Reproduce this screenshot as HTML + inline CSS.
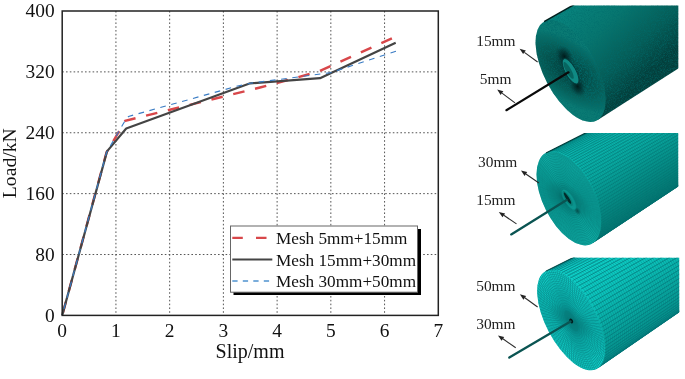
<!DOCTYPE html>
<html><head><meta charset="utf-8"><title>Mesh sensitivity</title>
<style>html,body{margin:0;padding:0;background:#fff}body{width:685px;height:379px;overflow:hidden}</style>
</head><body><div style="opacity:0.999;width:685px;height:379px">
<svg width="685" height="379" viewBox="0 0 685 379" style="display:block">
<defs></defs>
<rect x="0" y="0" width="685" height="379" fill="#fff"/>
<path d="M115.93 11.0 V315.4 M169.66 11.0 V315.4 M223.39 11.0 V315.4 M277.11 11.0 V315.4 M330.84 11.0 V315.4 M384.57 11.0 V315.4 M62.2 254.52 H438.3 M62.2 193.64 H438.3 M62.2 132.76 H438.3 M62.2 71.88 H438.3" stroke="#555" stroke-width="1" stroke-dasharray="1.6 2.2" fill="none"/>
<polyline points="62.2,315.4 106.5,152.5 125.3,120.8 260.0,87.5 297.0,77.5 319.5,71.2 391.9,38.4" fill="none" stroke="#d8474a" stroke-width="2.45" stroke-dasharray="11.6 10.85" stroke-dashoffset="19.9"/>
<polyline points="62.2,315.4 107.0,151.4 126.2,128.5 250.2,83.3 320.0,78.2 395.7,42.8" fill="none" stroke="#444" stroke-width="2.2" stroke-linejoin="round"/>
<polyline points="62.2,315.4 106.5,152.5 124.0,122.5 128.6,116.4 236.5,86.3 250.2,83.3 330.8,72.6 396.0,51.2" fill="none" stroke="#3a7cc4" stroke-width="1.15" stroke-dasharray="5.7 5.6" stroke-dashoffset="4.5"/>
<rect x="62.2" y="11.0" width="376.1" height="304.4" fill="none" stroke="#222" stroke-width="1.5"/>
<text x="54.6" y="321.7" font-family="Liberation Serif, serif" font-size="19.4" text-anchor="end" fill="#111">0</text>
<text x="54.6" y="260.8" font-family="Liberation Serif, serif" font-size="19.4" text-anchor="end" fill="#111">80</text>
<text x="54.6" y="199.9" font-family="Liberation Serif, serif" font-size="19.4" text-anchor="end" fill="#111">160</text>
<text x="54.6" y="139.1" font-family="Liberation Serif, serif" font-size="19.4" text-anchor="end" fill="#111">240</text>
<text x="54.6" y="78.2" font-family="Liberation Serif, serif" font-size="19.4" text-anchor="end" fill="#111">320</text>
<text x="54.6" y="17.3" font-family="Liberation Serif, serif" font-size="19.4" text-anchor="end" fill="#111">400</text>
<text x="62.2" y="337" font-family="Liberation Serif, serif" font-size="19.4" text-anchor="middle" fill="#111">0</text>
<text x="115.9" y="337" font-family="Liberation Serif, serif" font-size="19.4" text-anchor="middle" fill="#111">1</text>
<text x="169.7" y="337" font-family="Liberation Serif, serif" font-size="19.4" text-anchor="middle" fill="#111">2</text>
<text x="223.4" y="337" font-family="Liberation Serif, serif" font-size="19.4" text-anchor="middle" fill="#111">3</text>
<text x="277.1" y="337" font-family="Liberation Serif, serif" font-size="19.4" text-anchor="middle" fill="#111">4</text>
<text x="330.8" y="337" font-family="Liberation Serif, serif" font-size="19.4" text-anchor="middle" fill="#111">5</text>
<text x="384.6" y="337" font-family="Liberation Serif, serif" font-size="19.4" text-anchor="middle" fill="#111">6</text>
<text x="438.3" y="337" font-family="Liberation Serif, serif" font-size="19.4" text-anchor="middle" fill="#111">7</text>
<text x="250" y="358.4" font-family="Liberation Serif, serif" font-size="20" text-anchor="middle" fill="#111">Slip/mm</text>
<text transform="translate(15.8 163.2) rotate(-90)" font-family="Liberation Serif, serif" font-size="19.7" text-anchor="middle" fill="#111">Load/kN</text>
<rect x="233.5" y="229" width="187.5" height="66" fill="#000"/>
<rect x="230.5" y="226" width="187" height="66.2" fill="#fff" stroke="#666" stroke-width="1"/>
<line x1="232.3" y1="237.9" x2="272.3" y2="237.9" stroke="#d8474a" stroke-width="2.4" stroke-dasharray="10.5 13.2"/>
<line x1="232.3" y1="259.5" x2="272.3" y2="259.5" stroke="#444" stroke-width="2"/>
<line x1="232.3" y1="281" x2="272.3" y2="281" stroke="#4f92d0" stroke-width="1.35" stroke-dasharray="5.3 5.2"/>
<text x="276.0" y="243.9" font-family="Liberation Serif, serif" font-size="17.2" fill="#111">Mesh 5mm+15mm</text>
<text x="276.0" y="265.5" font-family="Liberation Serif, serif" font-size="17.2" fill="#111">Mesh 15mm+30mm</text>
<text x="276.0" y="287.1" font-family="Liberation Serif, serif" font-size="17.2" fill="#111">Mesh 30mm+50mm</text>
<radialGradient id="blob"><stop offset="0" stop-color="#011818" stop-opacity="0.95"/><stop offset="0.5" stop-color="#022a2a" stop-opacity="0.6"/><stop offset="1" stop-color="#034040" stop-opacity="0"/></radialGradient>
<filter id="spk" x="0" y="0" width="100%" height="100%"><feTurbulence type="fractalNoise" baseFrequency="1.3" numOctaves="2" seed="3" result="n"/><feColorMatrix type="matrix" values="0 0 0 0 0  0 0 0 0 0.15  0 0 0 0 0.15  1.5 0 0 0 -0.6"/></filter>
<clipPath id="c1"><rect x="500" y="5.4" width="178.29999999999995" height="116.99087528496683"/></clipPath>
<clipPath id="c1b"><path d="M544.1 21.6 L1461.3 -497.5 L1488.1 -448.3 L597.7 119.9 L570.6 70.9 Z"/></clipPath>
<clipPath id="c1f"><ellipse cx="570.6" cy="70.9" rx="26.4" ry="56.0" transform="rotate(-27.9 570.6 70.9)"/></clipPath>
<linearGradient id="c1g" gradientUnits="userSpaceOnUse" x1="544.1" y1="21.6" x2="617.5" y2="101.6"><stop offset="0" stop-color="#088680"/><stop offset="0.4" stop-color="#07766f"/><stop offset="0.75" stop-color="#055c57"/><stop offset="1" stop-color="#033f3c"/></linearGradient>
<radialGradient id="c1r" gradientUnits="userSpaceOnUse" cx="0" cy="0" r="1" gradientTransform="translate(569.5 71) rotate(-27.9) scale(29.0 61.6)"><stop offset="0" stop-color="#033c3a"/><stop offset="0.3" stop-color="#044c48"/><stop offset="0.62" stop-color="#065e58"/><stop offset="0.88" stop-color="#08706a"/><stop offset="1" stop-color="#0a7a73"/></radialGradient>
<g clip-path="url(#c1)">
<path d="M544.1 21.6 L1461.3 -497.5 L1488.1 -448.3 L597.7 119.9 L570.6 70.9 Z" fill="url(#c1g)"/>
<ellipse cx="570.6" cy="70.9" rx="26.4" ry="56.0" transform="rotate(-27.9 570.6 70.9)" fill="url(#c1r)"/>
<rect x="530" y="5.4" width="148.29999999999995" height="116.99087528496683" filter="url(#spk)" clip-path="url(#c1b)"/>
<rect x="530" y="5.4" width="148.29999999999995" height="116.99087528496683" filter="url(#spk)" clip-path="url(#c1f)"/>
<line x1="544.1" y1="21.6" x2="727.5" y2="-82.2" stroke="#03201f" stroke-width="1.5"/>
<ellipse cx="564.3" cy="56.5" rx="8.5" ry="12" transform="rotate(-29 564.3 56.5)" fill="url(#blob)"/><ellipse cx="577.6" cy="86.5" rx="8" ry="11" transform="rotate(-29 577.6 86.5)" fill="url(#blob)"/><ellipse cx="570.6" cy="71.3" rx="5.4" ry="14.2" transform="rotate(-29 570.6 71.3)" fill="#0f8a84" stroke="#043c3c" stroke-width="0.9"/><ellipse cx="568.6" cy="70.4" rx="2.6" ry="9.5" transform="rotate(-29 568.6 70.4)" fill="#076560"/>
</g>
<line x1="506.4" y1="110.2" x2="568.5" y2="72.3" stroke="#0a0a0a" stroke-width="2.2" stroke-linecap="round"/>
<clipPath id="c2"><rect x="500" y="133" width="178.20000000000005" height="112.95215900554308"/></clipPath>
<clipPath id="c2b"><path d="M546.0 152.9 L926.8 -38.9 L950.2 6.3 L592.9 243.1 L568.8 198.4 Z"/></clipPath>
<clipPath id="c2f"><ellipse cx="568.8" cy="198.4" rx="25.7" ry="50.9" transform="rotate(-26.5 568.8 198.4)"/></clipPath>
<linearGradient id="c2g" gradientUnits="userSpaceOnUse" x1="546.0" y1="152.9" x2="601.9" y2="237.2"><stop offset="0" stop-color="#0cc0b8"/><stop offset="0.45" stop-color="#09aaa2"/><stop offset="1" stop-color="#047670"/></linearGradient>
<radialGradient id="c2r" gradientUnits="userSpaceOnUse" cx="0" cy="0" r="1" gradientTransform="translate(567 198.8) rotate(-26.5) scale(28.3 56.0)"><stop offset="0" stop-color="#044a48"/><stop offset="0.2" stop-color="#09847e"/><stop offset="0.5" stop-color="#0ca49c"/><stop offset="1" stop-color="#10aea6"/></radialGradient>
<g clip-path="url(#c2)">
<path d="M546.0 152.9 L926.8 -38.9 L950.2 6.3 L592.9 243.1 L568.8 198.4 Z" fill="url(#c2g)"/>
<g clip-path="url(#c2b)"><path d="M546.0 152.9L926.8 -38.9M547.6 152.2L927.6 -39.2M549.2 151.8L928.4 -39.4M550.9 151.5L929.2 -39.6M552.6 151.4L930.1 -39.6M554.5 151.6L931.0 -39.5M556.3 151.9L931.9 -39.4M558.3 152.4L932.9 -39.1M560.3 153.1L933.9 -38.8M562.3 153.9L934.9 -38.3M564.3 155.0L935.9 -37.8M566.4 156.3L937.0 -37.2M568.5 157.7L938.0 -36.5M570.5 159.3L939.0 -35.7M572.6 161.0L940.1 -34.8M574.6 162.9L941.1 -33.9M576.7 165.0L942.1 -32.8M578.7 167.1L943.1 -31.7M580.6 169.5L944.1 -30.6M582.5 171.9L945.0 -29.4M584.4 174.4L946.0 -28.1M586.2 177.1L946.9 -26.8M587.9 179.8L947.7 -25.4M589.5 182.6L948.5 -24.0M591.1 185.5L949.3 -22.6M592.5 188.4L950.0 -21.1M593.9 191.4L950.7 -19.6M595.1 194.3L951.3 -18.1M596.3 197.4L951.9 -16.6M597.3 200.4L952.4 -15.1M598.2 203.4L952.9 -13.6M599.0 206.4L953.3 -12.1M599.7 209.3L953.6 -10.7M600.2 212.2L953.9 -9.2M600.7 215.1L954.1 -7.8M600.9 217.9L954.2 -6.4M601.1 220.6L954.3 -5.0M601.1 223.2L954.3 -3.7M601.0 225.7L954.3 -2.5M600.8 228.1L954.2 -1.3M600.4 230.3L954.0 -0.1M599.9 232.5L953.7 0.9M599.2 234.5L953.4 1.9M598.5 236.3L953.0 2.9M597.6 238.0L952.6 3.7M596.6 239.6L952.1 4.5M595.5 240.9L951.5 5.2M594.2 242.1L950.9 5.8M592.9 243.1L950.2 6.3" fill="none" stroke="#067472" stroke-width="0.58"/><path d="M543.7 155.2L546.0 153.1L548.6 151.6L551.5 150.8L554.6 150.5L557.9 150.9L561.5 152.0L565.1 153.6L568.8 155.8L572.6 158.6L576.3 161.9L579.9 165.7L583.4 169.9L586.8 174.5L589.9 179.4L592.7 184.5L595.3 189.8L597.5 195.2L599.4 200.6L600.9 206.0L601.9 211.3L602.6 216.4L602.8 221.2L602.6 225.7L601.9 229.9L600.8 233.6L599.4 236.8L597.5 239.4L595.3 241.6L592.7 243.1L589.8 244.0M545.5 154.3L547.8 152.2L550.4 150.7L553.2 149.9L556.4 149.6L559.7 150.0L563.2 151.1L566.9 152.7L570.6 154.9L574.3 157.7L578.0 161.0L581.6 164.8L585.1 169.0L588.5 173.5L591.6 178.4L594.4 183.5L597.0 188.8L599.2 194.2L601.0 199.6L602.5 205.0L603.6 210.3L604.2 215.3L604.4 220.2L604.2 224.7L603.6 228.8L602.5 232.5L601.0 235.7L599.2 238.3L596.9 240.4L594.4 242.0L591.5 242.9M547.3 153.4L549.6 151.3L552.1 149.8L555.0 149.0L558.1 148.7L561.5 149.1L565.0 150.2L568.6 151.8L572.3 154.0L576.0 156.8L579.7 160.1L583.3 163.8L586.8 168.0L590.1 172.6L593.2 177.4L596.1 182.5L598.6 187.8L600.8 193.2L602.7 198.6L604.2 204.0L605.2 209.2L605.9 214.3L606.1 219.1L605.9 223.6L605.2 227.7L604.2 231.4L602.7 234.6L600.8 237.2L598.6 239.3L596.1 240.8L593.2 241.8M549.1 152.4L551.4 150.4L553.9 148.9L556.8 148.1L559.9 147.9L563.2 148.3L566.7 149.3L570.3 150.9L574.0 153.1L577.7 155.9L581.4 159.1L585.0 162.9L588.5 167.1L591.8 171.6L594.9 176.5L597.8 181.6L600.3 186.8L602.5 192.2L604.4 197.6L605.8 202.9L606.9 208.2L607.5 213.2L607.7 218.0L607.5 222.5L606.9 226.6L605.8 230.3L604.3 233.5L602.5 236.1L600.3 238.2L597.7 239.7L594.9 240.6M550.9 151.5L553.1 149.5L555.7 148.0L558.6 147.2L561.7 147.0L565.0 147.4L568.5 148.4L572.1 150.0L575.8 152.2L579.5 155.0L583.1 158.2L586.7 162.0L590.2 166.1L593.5 170.7L596.6 175.5L599.4 180.6L602.0 185.8L604.2 191.2L606.0 196.6L607.5 201.9L608.5 207.1L609.2 212.2L609.4 217.0L609.2 221.4L608.5 225.5L607.5 229.2L606.0 232.4L604.2 235.0L601.9 237.1L599.4 238.6L596.6 239.5M552.7 150.6L554.9 148.6L557.5 147.1L560.3 146.3L563.4 146.1L566.7 146.5L570.2 147.5L573.8 149.1L577.5 151.3L581.2 154.0L584.9 157.3L588.5 161.0L591.9 165.2L595.2 169.7L598.3 174.6L601.1 179.6L603.6 184.9L605.8 190.2L607.7 195.6L609.1 200.9L610.2 206.1L610.8 211.1L611.0 215.9L610.8 220.4L610.2 224.5L609.1 228.1L607.7 231.3L605.8 233.9L603.6 236.0L601.1 237.5L598.3 238.4M554.5 149.7L556.7 147.7L559.3 146.2L562.1 145.4L565.2 145.2L568.5 145.6L572.0 146.6L575.6 148.2L579.2 150.4L582.9 153.1L586.6 156.4L590.2 160.1L593.6 164.3L596.9 168.8L600.0 173.6L602.8 178.6L605.3 183.9L607.5 189.2L609.3 194.6L610.8 199.9L611.9 205.1L612.5 210.1L612.7 214.9L612.5 219.3L611.8 223.4L610.8 227.0L609.3 230.2L607.5 232.8L605.3 234.9L602.8 236.4L599.9 237.3M556.3 148.8L558.5 146.8L561.0 145.3L563.9 144.5L567.0 144.3L570.3 144.7L573.7 145.7L577.3 147.3L581.0 149.5L584.6 152.2L588.3 155.5L591.9 159.2L595.3 163.3L598.6 167.8L601.7 172.6L604.5 177.7L607.0 182.9L609.2 188.2L611.0 193.5L612.5 198.9L613.5 204.0L614.1 209.0L614.4 213.8L614.1 218.2L613.5 222.3L612.4 225.9L611.0 229.1L609.2 231.7L607.0 233.8L604.4 235.3L601.6 236.2M558.1 147.9L560.3 145.9L562.8 144.4L565.7 143.6L568.7 143.4L572.0 143.8L575.5 144.8L579.1 146.4L582.7 148.6L586.4 151.3L590.0 154.5L593.6 158.3L597.0 162.4L600.3 166.9L603.3 171.7L606.2 176.7L608.7 181.9L610.8 187.2L612.7 192.5L614.1 197.8L615.2 203.0L615.8 208.0L616.0 212.7L615.8 217.2L615.2 221.2L614.1 224.8L612.7 228.0L610.8 230.6L608.6 232.7L606.1 234.2L603.3 235.1M559.9 147.0L562.1 145.0L564.6 143.6L567.4 142.7L570.5 142.5L573.8 142.9L577.2 143.9L580.8 145.5L584.4 147.7L588.1 150.4L591.7 153.6L595.3 157.3L598.7 161.4L602.0 165.9L605.0 170.7L607.8 175.7L610.3 180.9L612.5 186.2L614.3 191.5L615.8 196.8L616.8 202.0L617.5 206.9L617.7 211.7L617.4 216.1L616.8 220.1L615.8 223.7L614.3 226.9L612.5 229.5L610.3 231.6L607.8 233.1L605.0 234.0M561.7 146.1L563.9 144.1L566.4 142.7L569.2 141.8L572.3 141.6L575.5 142.0L579.0 143.0L582.5 144.6L586.2 146.8L589.8 149.5L593.4 152.7L597.0 156.4L600.4 160.5L603.7 165.0L606.7 169.7L609.5 174.8L612.0 179.9L614.2 185.2L616.0 190.5L617.4 195.8L618.5 200.9L619.1 205.9L619.3 210.6L619.1 215.0L618.5 219.1L617.4 222.7L616.0 225.8L614.2 228.4L612.0 230.5L609.5 232.0L606.7 232.8M563.4 145.2L565.6 143.2L568.2 141.8L571.0 140.9L574.0 140.7L577.3 141.1L580.7 142.1L584.3 143.7L587.9 145.8L591.5 148.6L595.2 151.8L598.7 155.5L602.1 159.6L605.4 164.0L608.4 168.8L611.2 173.8L613.7 178.9L615.8 184.2L617.7 189.5L619.1 194.8L620.1 199.9L620.8 204.8L621.0 209.6L620.8 213.9L620.1 218.0L619.1 221.6L617.6 224.7L615.8 227.3L613.6 229.4L611.1 230.8L608.4 231.7M565.2 144.3L567.4 142.3L569.9 140.9L572.7 140.0L575.8 139.8L579.1 140.2L582.5 141.2L586.0 142.8L589.6 144.9L593.3 147.6L596.9 150.9L600.4 154.5L603.8 158.6L607.1 163.1L610.1 167.8L612.9 172.8L615.3 178.0L617.5 183.2L619.3 188.5L620.8 193.7L621.8 198.9L622.4 203.8L622.6 208.5L622.4 212.9L621.8 216.9L620.7 220.5L619.3 223.6L617.5 226.2L615.3 228.3L612.8 229.7L610.0 230.6M567.0 143.4L569.2 141.4L571.7 140.0L574.5 139.1L577.6 138.9L580.8 139.3L584.2 140.3L587.8 141.9L591.4 144.0L595.0 146.7L598.6 149.9L602.1 153.6L605.5 157.7L608.7 162.1L611.8 166.9L614.5 171.8L617.0 177.0L619.2 182.2L621.0 187.5L622.4 192.7L623.4 197.8L624.1 202.7L624.3 207.4L624.1 211.8L623.4 215.8L622.4 219.4L621.0 222.5L619.2 225.1L617.0 227.1L614.5 228.6L611.7 229.5M568.8 142.5L571.0 140.5L573.5 139.1L576.3 138.2L579.3 138.0L582.6 138.4L586.0 139.4L589.5 141.0L593.1 143.1L596.7 145.8L600.3 149.0L603.8 152.7L607.2 156.7L610.4 161.2L613.5 165.9L616.2 170.9L618.7 176.0L620.8 181.2L622.6 186.5L624.1 191.7L625.1 196.8L625.7 201.7L625.9 206.4L625.7 210.7L625.1 214.7L624.1 218.3L622.6 221.4L620.8 224.0L618.7 226.0L616.2 227.5L613.4 228.4M570.6 141.6L572.8 139.6L575.3 138.2L578.1 137.3L581.1 137.1L584.3 137.5L587.7 138.5L591.2 140.1L594.8 142.2L598.4 144.9L602.0 148.1L605.5 151.7L608.9 155.8L612.1 160.2L615.1 164.9L617.9 169.9L620.4 175.0L622.5 180.2L624.3 185.5L625.7 190.7L626.8 195.7L627.4 200.7L627.6 205.3L627.4 209.7L626.7 213.6L625.7 217.2L624.3 220.3L622.5 222.9L620.3 224.9L617.9 226.4L615.1 227.3M572.4 140.7L574.6 138.7L577.1 137.3L579.8 136.4L582.9 136.2L586.1 136.6L589.5 137.6L593.0 139.2L596.6 141.3L600.2 144.0L603.7 147.2L607.2 150.8L610.6 154.9L613.8 159.3L616.8 164.0L619.6 168.9L622.0 174.0L624.2 179.2L626.0 184.4L627.4 189.6L628.4 194.7L629.0 199.6L629.2 204.3L629.0 208.6L628.4 212.6L627.4 216.1L625.9 219.2L624.1 221.8L622.0 223.8L619.5 225.3L616.8 226.2M574.2 139.8L576.4 137.8L578.9 136.4L581.6 135.6L584.6 135.3L587.9 135.7L591.2 136.7L594.7 138.3L598.3 140.4L601.9 143.1L605.5 146.3L608.9 149.9L612.3 153.9L615.5 158.3L618.5 163.0L621.2 167.9L623.7 173.0L625.8 178.2L627.6 183.4L629.0 188.6L630.1 193.7L630.7 198.6L630.9 203.2L630.7 207.5L630.1 211.5L629.0 215.0L627.6 218.1L625.8 220.7L623.7 222.7L621.2 224.2L618.5 225.0M576.0 138.9L578.2 136.9L580.6 135.5L583.4 134.7L586.4 134.4L589.6 134.8L593.0 135.8L596.5 137.4L600.0 139.5L603.6 142.2L607.2 145.3L610.7 149.0L614.0 153.0L617.2 157.4L620.2 162.0L622.9 167.0L625.4 172.0L627.5 177.2L629.3 182.4L630.7 187.6L631.7 192.6L632.3 197.5L632.5 202.1L632.3 206.5L631.7 210.4L630.7 213.9L629.3 217.0L627.5 219.6L625.3 221.6L622.9 223.1L620.2 223.9M577.8 138.0L579.9 136.0L582.4 134.6L585.2 133.8L588.2 133.5L591.4 133.9L594.7 134.9L598.2 136.5L601.8 138.6L605.3 141.3L608.9 144.4L612.4 148.0L615.7 152.0L618.9 156.4L621.9 161.1L624.6 166.0L627.0 171.1L629.2 176.2L631.0 181.4L632.4 186.6L633.4 191.6L634.0 196.5L634.2 201.1L634.0 205.4L633.4 209.3L632.3 212.9L630.9 215.9L629.1 218.5L627.0 220.5L624.6 222.0L621.8 222.8M579.6 137.1L581.7 135.1L584.2 133.7L586.9 132.9L589.9 132.6L593.1 133.0L596.5 134.0L600.0 135.6L603.5 137.7L607.1 140.3L610.6 143.5L614.1 147.1L617.4 151.1L620.6 155.5L623.6 160.1L626.3 165.0L628.7 170.1L630.8 175.2L632.6 180.4L634.0 185.5L635.0 190.6L635.6 195.4L635.9 200.0L635.6 204.3L635.0 208.2L634.0 211.8L632.6 214.8L630.8 217.4L628.7 219.4L626.2 220.8L623.5 221.7M581.4 136.2L583.5 134.2L586.0 132.8L588.7 132.0L591.7 131.8L594.9 132.1L598.2 133.1L601.7 134.7L605.2 136.8L608.8 139.4L612.3 142.6L615.8 146.2L619.1 150.2L622.3 154.5L625.2 159.2L628.0 164.0L630.4 169.1L632.5 174.2L634.3 179.4L635.7 184.5L636.7 189.5L637.3 194.4L637.5 199.0L637.3 203.2L636.7 207.2L635.7 210.7L634.3 213.7L632.5 216.3L630.4 218.3L627.9 219.7L625.2 220.6M583.2 135.2L585.3 133.3L587.8 131.9L590.5 131.1L593.5 130.9L596.6 131.2L600.0 132.2L603.4 133.8L607.0 135.9L610.5 138.5L614.0 141.6L617.5 145.2L620.8 149.2L624.0 153.6L626.9 158.2L629.6 163.1L632.1 168.1L634.2 173.2L635.9 178.4L637.3 183.5L638.3 188.5L639.0 193.3L639.2 197.9L639.0 202.2L638.3 206.1L637.3 209.6L635.9 212.6L634.1 215.2L632.0 217.2L629.6 218.6L626.9 219.5M585.0 134.3L587.1 132.4L589.5 131.0L592.3 130.2L595.2 130.0L598.4 130.3L601.7 131.3L605.2 132.9L608.7 135.0L612.2 137.6L615.7 140.7L619.2 144.3L622.5 148.3L625.7 152.6L628.6 157.2L631.3 162.1L633.7 167.1L635.8 172.2L637.6 177.4L639.0 182.5L640.0 187.4L640.6 192.3L640.8 196.8L640.6 201.1L640.0 205.0L639.0 208.5L637.6 211.5L635.8 214.1L633.7 216.1L631.3 217.5L628.6 218.4M586.8 133.4L588.9 131.5L591.3 130.1L594.0 129.3L597.0 129.1L600.2 129.4L603.5 130.4L606.9 132.0L610.4 134.1L614.0 136.7L617.5 139.8L620.9 143.4L624.2 147.3L627.4 151.7L630.3 156.3L633.0 161.1L635.4 166.1L637.5 171.2L639.3 176.3L640.7 181.4L641.7 186.4L642.3 191.2L642.5 195.8L642.3 200.0L641.6 203.9L640.6 207.4L639.2 210.4L637.5 213.0L635.4 215.0L633.0 216.4L630.3 217.2M588.5 132.5L590.7 130.6L593.1 129.2L595.8 128.4L598.8 128.2L601.9 128.6L605.2 129.5L608.7 131.1L612.2 133.2L615.7 135.8L619.2 138.9L622.6 142.4L625.9 146.4L629.0 150.7L632.0 155.3L634.7 160.1L637.1 165.1L639.2 170.2L640.9 175.3L642.3 180.4L643.3 185.4L643.9 190.2L644.1 194.7L643.9 199.0L643.3 202.8L642.3 206.3L640.9 209.3L639.1 211.9L637.0 213.9L634.6 215.3L631.9 216.1M590.3 131.6L592.5 129.7L594.9 128.3L597.6 127.5L600.5 127.3L603.7 127.7L607.0 128.6L610.4 130.2L613.9 132.2L617.4 134.9L620.9 138.0L624.3 141.5L627.6 145.5L630.7 149.8L633.7 154.4L636.3 159.2L638.7 164.1L640.8 169.2L642.6 174.3L644.0 179.4L645.0 184.3L645.6 189.1L645.8 193.6L645.6 197.9L645.0 201.8L644.0 205.2L642.6 208.2L640.8 210.8L638.7 212.7L636.3 214.2L633.6 215.0M592.1 130.7L594.2 128.8L596.7 127.4L599.4 126.6L602.3 126.4L605.4 126.8L608.7 127.7L612.2 129.3L615.6 131.3L619.1 133.9L622.6 137.0L626.0 140.6L629.3 144.5L632.4 148.8L635.3 153.4L638.0 158.2L640.4 163.2L642.5 168.2L644.2 173.3L645.6 178.4L646.6 183.3L647.2 188.1L647.4 192.6L647.2 196.8L646.6 200.7L645.6 204.1L644.2 207.1L642.5 209.7L640.4 211.6L638.0 213.1L635.3 213.9M593.9 129.8L596.0 127.9L598.4 126.5L601.1 125.7L604.1 125.5L607.2 125.9L610.5 126.8L613.9 128.4L617.4 130.4L620.9 133.0L624.3 136.1L627.7 139.7L631.0 143.6L634.1 147.9L637.0 152.4L639.7 157.2L642.1 162.2L644.2 167.2L645.9 172.3L647.3 177.3L648.3 182.3L648.9 187.0L649.1 191.5L648.9 195.7L648.3 199.6L647.3 203.1L645.9 206.1L644.1 208.6L642.1 210.5L639.7 211.9L637.0 212.8M595.7 128.9L597.8 127.0L600.2 125.6L602.9 124.8L605.8 124.6L609.0 125.0L612.2 125.9L615.6 127.5L619.1 129.5L622.6 132.1L626.0 135.2L629.4 138.7L632.7 142.6L635.8 146.9L638.7 151.5L641.4 156.2L643.8 161.2L645.8 166.2L647.6 171.3L648.9 176.3L649.9 181.2L650.5 186.0L650.7 190.5L650.5 194.7L649.9 198.5L648.9 202.0L647.5 205.0L645.8 207.5L643.7 209.4L641.3 210.8L638.7 211.7M597.5 128.0L599.6 126.1L602.0 124.7L604.7 123.9L607.6 123.7L610.7 124.1L614.0 125.0L617.4 126.5L620.8 128.6L624.3 131.2L627.8 134.3L631.1 137.8L634.4 141.7L637.5 146.0L640.4 150.5L643.1 155.3L645.4 160.2L647.5 165.2L649.2 170.3L650.6 175.3L651.6 180.2L652.2 184.9L652.4 189.4L652.2 193.6L651.6 197.4L650.6 200.9L649.2 203.9L647.5 206.3L645.4 208.3L643.0 209.7L640.4 210.6M599.3 127.1L601.4 125.2L603.8 123.8L606.5 123.0L609.4 122.8L612.5 123.2L615.7 124.1L619.1 125.6L622.6 127.7L626.0 130.3L629.5 133.4L632.8 136.9L636.1 140.8L639.2 145.0L642.1 149.5L644.7 154.3L647.1 159.2L649.2 164.2L650.9 169.3L652.3 174.3L653.2 179.1L653.8 183.9L654.0 188.3L653.8 192.5L653.2 196.4L652.2 199.8L650.9 202.8L649.1 205.2L647.1 207.2L644.7 208.6L642.0 209.5M601.1 126.2L603.2 124.3L605.6 122.9L608.2 122.1L611.1 121.9L614.2 122.3L617.5 123.2L620.9 124.7L624.3 126.8L627.8 129.4L631.2 132.4L634.6 135.9L637.8 139.8L640.9 144.1L643.8 148.6L646.4 153.3L648.8 158.2L650.8 163.2L652.6 168.2L653.9 173.2L654.9 178.1L655.5 182.8L655.7 187.3L655.5 191.5L654.9 195.3L653.9 198.7L652.5 201.7L650.8 204.1L648.7 206.1L646.4 207.5L643.7 208.3M602.9 125.3L605.0 123.4L607.4 122.0L610.0 121.2L612.9 121.0L616.0 121.4L619.2 122.3L622.6 123.8L626.0 125.9L629.5 128.5L632.9 131.5L636.3 135.0L639.5 138.9L642.6 143.1L645.5 147.6L648.1 152.3L650.4 157.2L652.5 162.2L654.2 167.2L655.6 172.2L656.6 177.1L657.2 181.8L657.4 186.2L657.2 190.4L656.6 194.2L655.6 197.6L654.2 200.6L652.5 203.0L650.4 205.0L648.1 206.4L645.4 207.2M604.7 124.4L606.8 122.5L609.1 121.1L611.8 120.3L614.7 120.1L617.8 120.5L621.0 121.4L624.3 122.9L627.8 125.0L631.2 127.6L634.6 130.6L638.0 134.1L641.2 137.9L644.3 142.2L647.1 146.7L649.8 151.4L652.1 156.3L654.2 161.2L655.9 166.2L657.2 171.2L658.2 176.0L658.8 180.7L659.0 185.2L658.8 189.3L658.2 193.1L657.2 196.5L655.9 199.5L654.1 201.9L652.1 203.9L649.7 205.3L647.1 206.1M606.5 123.5L608.5 121.6L610.9 120.2L613.6 119.4L616.4 119.2L619.5 119.6L622.7 120.5L626.1 122.0L629.5 124.1L632.9 126.6L636.3 129.7L639.7 133.1L642.9 137.0L646.0 141.2L648.8 145.7L651.4 150.4L653.8 155.3L655.8 160.2L657.5 165.2L658.9 170.2L659.9 175.0L660.5 179.7L660.7 184.1L660.5 188.2L659.9 192.0L658.9 195.4L657.5 198.4L655.8 200.8L653.8 202.8L651.4 204.2L648.8 205.0M608.3 122.6L610.3 120.7L612.7 119.3L615.3 118.5L618.2 118.3L621.3 118.7L624.5 119.6L627.8 121.1L631.2 123.2L634.7 125.7L638.1 128.8L641.4 132.2L644.6 136.1L647.7 140.3L650.5 144.7L653.1 149.4L655.5 154.3L657.5 159.2L659.2 164.2L660.6 169.1L661.5 174.0L662.1 178.6L662.3 183.0L662.1 187.2L661.5 191.0L660.5 194.3L659.2 197.3L657.5 199.7L655.4 201.7L653.1 203.1L650.5 203.9M610.1 121.7L612.1 119.8L614.5 118.4L617.1 117.7L620.0 117.4L623.0 117.8L626.2 118.7L629.6 120.2L633.0 122.3L636.4 124.8L639.8 127.8L643.1 131.3L646.3 135.1L649.3 139.3L652.2 143.8L654.8 148.5L657.1 153.3L659.2 158.2L660.9 163.2L662.2 168.1L663.2 172.9L663.8 177.6L664.0 182.0L663.8 186.1L663.2 189.9L662.2 193.3L660.8 196.2L659.1 198.6L657.1 200.6L654.8 201.9L652.2 202.8M611.8 120.8L613.9 118.9L616.3 117.5L618.9 116.8L621.7 116.5L624.8 116.9L628.0 117.8L631.3 119.3L634.7 121.4L638.1 123.9L641.5 126.9L644.8 130.4L648.0 134.2L651.0 138.4L653.9 142.8L656.5 147.5L658.8 152.3L660.8 157.2L662.5 162.2L663.9 167.1L664.8 171.9L665.4 176.5L665.6 180.9L665.4 185.0L664.8 188.8L663.9 192.2L662.5 195.1L660.8 197.5L658.8 199.4L656.4 200.8L653.8 201.7M613.6 119.9L615.7 118.0L618.0 116.6L620.7 115.9L623.5 115.7L626.6 116.0L629.8 116.9L633.1 118.4L636.4 120.5L639.8 123.0L643.2 126.0L646.5 129.4L649.7 133.2L652.7 137.4L655.6 141.8L658.2 146.5L660.5 151.3L662.5 156.2L664.2 161.2L665.5 166.1L666.5 170.9L667.1 175.5L667.3 179.9L667.1 184.0L666.5 187.7L665.5 191.1L664.2 194.0L662.5 196.4L660.4 198.3L658.1 199.7L655.5 200.5M615.4 119.0L617.5 117.1L619.8 115.7L622.4 115.0L625.3 114.8L628.3 115.1L631.5 116.1L634.8 117.5L638.2 119.5L641.6 122.1L644.9 125.1L648.2 128.5L651.4 132.3L654.4 136.5L657.2 140.9L659.8 145.5L662.1 150.3L664.2 155.2L665.8 160.2L667.2 165.0L668.2 169.8L668.7 174.4L668.9 178.8L668.7 182.9L668.1 186.6L667.2 190.0L665.8 192.9L664.1 195.3L662.1 197.2L659.8 198.6L657.2 199.4M617.2 118.0L619.3 116.2L621.6 114.8L624.2 114.1L627.0 113.9L630.1 114.2L633.3 115.2L636.5 116.6L639.9 118.6L643.3 121.2L646.6 124.1L649.9 127.6L653.1 131.4L656.1 135.5L658.9 139.9L661.5 144.6L663.8 149.3L665.8 154.2L667.5 159.1L668.8 164.0L669.8 168.8L670.4 173.4L670.6 177.7L670.4 181.8L669.8 185.6L668.8 188.9L667.5 191.8L665.8 194.2L663.8 196.1L661.5 197.5L658.9 198.3M619.0 117.1L621.0 115.3L623.4 114.0L626.0 113.2L628.8 113.0L631.8 113.3L635.0 114.3L638.3 115.7L641.6 117.7L645.0 120.2L648.4 123.2L651.6 126.6L654.8 130.4L657.8 134.6L660.6 139.0L663.2 143.6L665.5 148.4L667.5 153.2L669.2 158.1L670.5 163.0L671.5 167.7L672.0 172.3L672.2 176.7L672.0 180.8L671.5 184.5L670.5 187.8L669.2 190.7L667.5 193.1L665.5 195.0L663.2 196.4L660.6 197.2M620.8 116.2L622.8 114.4L625.2 113.1L627.8 112.3L630.6 112.1L633.6 112.4L636.8 113.4L640.0 114.8L643.4 116.8L646.7 119.3L650.1 122.3L653.3 125.7L656.5 129.5L659.5 133.6L662.3 138.0L664.9 142.6L667.2 147.4L669.2 152.2L670.8 157.1L672.2 162.0L673.1 166.7L673.7 171.3L673.9 175.6L673.7 179.7L673.1 183.4L672.1 186.7L670.8 189.6L669.1 192.0L667.1 193.9L664.8 195.3L662.3 196.1M622.6 115.3L624.6 113.5L626.9 112.2L629.5 111.4L632.3 111.2L635.3 111.5L638.5 112.5L641.8 113.9L645.1 115.9L648.5 118.4L651.8 121.4L655.0 124.8L658.2 128.5L661.2 132.7L664.0 137.0L666.5 141.6L668.8 146.4L670.8 151.2L672.5 156.1L673.8 160.9L674.8 165.7L675.4 170.2L675.5 174.6L675.3 178.6L674.8 182.3L673.8 185.6L672.5 188.5L670.8 190.9L668.8 192.8L666.5 194.2L663.9 195.0M624.4 114.4L626.4 112.6L628.7 111.3L631.3 110.5L634.1 110.3L637.1 110.6L640.3 111.6L643.5 113.0L646.8 115.0L650.2 117.5L653.5 120.5L656.8 123.8L659.9 127.6L662.9 131.7L665.7 136.1L668.2 140.7L670.5 145.4L672.5 150.2L674.2 155.1L675.5 159.9L676.4 164.6L677.0 169.2L677.2 173.5L677.0 177.5L676.4 181.2L675.5 184.5L674.1 187.4L672.5 189.8L670.5 191.7L668.2 193.1L665.6 193.9M626.2 113.5L628.2 111.7L630.5 110.4L633.1 109.6L635.9 109.4L638.9 109.8L642.0 110.7L645.3 112.1L648.6 114.1L651.9 116.6L655.2 119.5L658.5 122.9L661.6 126.7L664.6 130.8L667.3 135.1L669.9 139.7L672.2 144.4L674.2 149.2L675.8 154.1L677.1 158.9L678.1 163.6L678.7 168.1L678.9 172.4L678.7 176.5L678.1 180.2L677.1 183.4L675.8 186.3L674.1 188.7L672.1 190.6L669.9 191.9L667.3 192.7M628.0 112.6L630.0 110.8L632.3 109.5L634.8 108.7L637.6 108.5L640.6 108.9L643.8 109.8L647.0 111.2L650.3 113.2L653.6 115.7L656.9 118.6L660.2 122.0L663.3 125.7L666.3 129.8L669.0 134.1L671.6 138.7L673.8 143.4L675.8 148.2L677.5 153.1L678.8 157.9L679.7 162.6L680.3 167.1L680.5 171.4L680.3 175.4L679.7 179.1L678.8 182.4L677.5 185.2L675.8 187.6L673.8 189.5L671.5 190.8L669.0 191.6M629.8 111.7L631.8 109.9L634.1 108.6L636.6 107.8L639.4 107.6L642.4 108.0L645.5 108.9L648.7 110.3L652.0 112.3L655.4 114.8L658.6 117.7L661.9 121.1L665.0 124.8L667.9 128.8L670.7 133.2L673.2 137.7L675.5 142.4L677.5 147.2L679.1 152.1L680.5 156.8L681.4 161.5L682.0 166.0L682.2 170.3L682.0 174.3L681.4 178.0L680.4 181.3L679.1 184.1L677.5 186.5L675.5 188.4L673.2 189.7L670.7 190.5M631.6 110.8L633.6 109.0L635.8 107.7L638.4 106.9L641.2 106.7L644.1 107.1L647.3 108.0L650.5 109.4L653.8 111.4L657.1 113.9L660.4 116.8L663.6 120.1L666.7 123.8L669.6 127.9L672.4 132.2L674.9 136.8L677.2 141.5L679.2 146.2L680.8 151.0L682.1 155.8L683.1 160.5L683.6 165.0L683.8 169.3L683.6 173.3L683.0 176.9L682.1 180.2L680.8 183.0L679.1 185.4L677.2 187.3L674.9 188.6L672.4 189.4M633.4 109.9L635.3 108.1L637.6 106.8L640.2 106.0L642.9 105.8L645.9 106.2L649.0 107.1L652.2 108.5L655.5 110.5L658.8 112.9L662.1 115.9L665.3 119.2L668.4 122.9L671.3 126.9L674.1 131.3L676.6 135.8L678.9 140.5L680.8 145.2L682.5 150.0L683.8 154.8L684.7 159.4L685.3 163.9L685.5 168.2L685.3 172.2L684.7 175.8L683.8 179.1L682.4 181.9L680.8 184.3L678.8 186.2L676.6 187.5L674.0 188.3M635.1 109.0L637.1 107.2L639.4 105.9L641.9 105.1L644.7 104.9L647.7 105.3L650.8 106.2L654.0 107.6L657.2 109.6L660.5 112.0L663.8 114.9L667.0 118.3L670.1 122.0L673.0 126.0L675.8 130.3L678.3 134.8L680.5 139.5L682.5 144.2L684.1 149.0L685.4 153.8L686.4 158.4L686.9 162.9L687.1 167.1L686.9 171.1L686.4 174.7L685.4 178.0L684.1 180.8L682.5 183.2L680.5 185.0L678.2 186.4L675.7 187.2M636.9 108.1L638.9 106.3L641.2 105.0L643.7 104.2L646.5 104.0L649.4 104.4L652.5 105.3L655.7 106.7L659.0 108.7L662.3 111.1L665.5 114.0L668.7 117.3L671.8 121.0L674.7 125.0L677.4 129.3L680.0 133.8L682.2 138.5L684.2 143.2L685.8 148.0L687.1 152.7L688.0 157.4L688.6 161.8L688.8 166.1L688.6 170.0L688.0 173.7L687.1 176.9L685.8 179.7L684.1 182.1L682.2 183.9L679.9 185.3L677.4 186.1M638.7 107.2L640.7 105.4L643.0 104.1L645.5 103.3L648.2 103.1L651.2 103.5L654.3 104.4L657.5 105.8L660.7 107.8L664.0 110.2L667.2 113.1L670.4 116.4L673.5 120.1L676.4 124.1L679.1 128.4L681.6 132.9L683.9 137.5L685.8 142.2L687.5 147.0L688.7 151.7L689.7 156.3L690.2 160.8L690.4 165.0L690.2 169.0L689.7 172.6L688.7 175.8L687.4 178.6L685.8 181.0L683.8 182.8L681.6 184.2L679.1 185.0M640.5 106.3L642.5 104.5L644.8 103.2L647.3 102.4L650.0 102.2L652.9 102.6L656.0 103.5L659.2 104.9L662.4 106.9L665.7 109.3L668.9 112.2L672.1 115.5L675.2 119.1L678.1 123.1L680.8 127.4L683.3 131.9L685.5 136.5L687.5 141.2L689.1 146.0L690.4 150.7L691.3 155.3L691.9 159.7L692.1 164.0L691.9 167.9L691.3 171.5L690.4 174.7L689.1 177.5L687.5 179.9L685.5 181.7L683.3 183.0L680.8 183.8M642.3 105.4L644.3 103.6L646.5 102.3L649.0 101.5L651.8 101.3L654.7 101.7L657.8 102.6L660.9 104.0L664.2 105.9L667.4 108.4L670.7 111.2L673.8 114.5L676.9 118.2L679.8 122.2L682.5 126.5L685.0 130.9L687.2 135.5L689.2 140.2L690.8 145.0L692.1 149.7L693.0 154.3L693.6 158.7L693.7 162.9L693.5 166.8L693.0 170.4L692.0 173.6L690.8 176.4L689.1 178.8L687.2 180.6L685.0 181.9L682.5 182.7M644.1 104.5L646.1 102.7L648.3 101.4L650.8 100.6L653.5 100.4L656.5 100.8L659.5 101.7L662.7 103.1L665.9 105.0L669.2 107.5L672.4 110.3L675.5 113.6L678.6 117.3L681.5 121.2L684.2 125.5L686.7 129.9L688.9 134.5L690.8 139.2L692.4 144.0L693.7 148.6L694.6 153.2L695.2 157.6L695.4 161.8L695.2 165.8L694.6 169.3L693.7 172.6L692.4 175.3L690.8 177.7L688.9 179.5L686.6 180.8L684.2 181.6M645.9 103.6L647.9 101.8L650.1 100.5L652.6 99.8L655.3 99.6L658.2 99.9L661.3 100.8L664.4 102.2L667.6 104.1L670.9 106.5L674.1 109.4L677.2 112.7L680.3 116.3L683.2 120.3L685.9 124.5L688.3 129.0L690.6 133.6L692.5 138.2L694.1 142.9L695.4 147.6L696.3 152.2L696.9 156.6L697.0 160.8L696.9 164.7L696.3 168.3L695.4 171.5L694.1 174.2L692.5 176.6L690.5 178.4L688.3 179.7L685.8 180.5M647.7 102.7L649.6 100.9L651.9 99.6L654.4 98.9L657.1 98.7L660.0 99.0L663.0 99.9L666.2 101.3L669.4 103.2L672.6 105.6L675.8 108.5L678.9 111.8L682.0 115.4L684.9 119.3L687.6 123.6L690.0 128.0L692.2 132.6L694.2 137.2L695.8 141.9L697.0 146.6L698.0 151.2L698.5 155.5L698.7 159.7L698.5 163.6L697.9 167.2L697.0 170.4L695.7 173.1L694.1 175.5L692.2 177.3L690.0 178.6L687.5 179.4M649.5 101.8L651.4 100.0L653.7 98.7L656.1 98.0L658.8 97.8L661.7 98.1L664.8 99.0L667.9 100.4L671.1 102.3L674.3 104.7L677.5 107.6L680.7 110.8L683.7 114.4L686.6 118.4L689.2 122.6L691.7 127.0L693.9 131.6L695.8 136.2L697.4 140.9L698.7 145.6L699.6 150.1L700.2 154.5L700.4 158.7L700.2 162.5L699.6 166.1L698.7 169.3L697.4 172.1L695.8 174.4L693.9 176.2L691.7 177.5L689.2 178.3M651.3 100.8L653.2 99.1L655.4 97.8L657.9 97.1L660.6 96.9L663.5 97.2L666.5 98.1L669.6 99.5L672.8 101.4L676.1 103.8L679.2 106.6L682.4 109.9L685.4 113.5L688.2 117.4L690.9 121.6L693.4 126.0L695.6 130.6L697.5 135.2L699.1 139.9L700.4 144.5L701.3 149.1L701.8 153.4L702.0 157.6L701.8 161.5L701.3 165.0L700.3 168.2L699.1 171.0L697.5 173.3L695.5 175.1L693.3 176.4L690.9 177.2M653.1 99.9L655.0 98.2L657.2 96.9L659.7 96.2L662.4 96.0L665.2 96.3L668.3 97.2L671.4 98.6L674.6 100.5L677.8 102.9L681.0 105.7L684.1 109.0L687.1 112.6L689.9 116.5L692.6 120.7L695.1 125.1L697.2 129.6L699.2 134.2L700.7 138.9L702.0 143.5L702.9 148.0L703.5 152.4L703.7 156.5L703.5 160.4L702.9 163.9L702.0 167.1L700.7 169.9L699.1 172.2L697.2 174.0L695.0 175.3L692.6 176.0M654.9 99.0L656.8 97.3L659.0 96.0L661.5 95.3L664.1 95.1L667.0 95.4L670.0 96.3L673.1 97.7L676.3 99.6L679.5 102.0L682.7 104.8L685.8 108.0L688.8 111.6L691.6 115.5L694.3 119.7L696.7 124.1L698.9 128.6L700.8 133.2L702.4 137.9L703.7 142.5L704.6 147.0L705.1 151.3L705.3 155.5L705.1 159.3L704.6 162.9L703.7 166.0L702.4 168.8L700.8 171.0L698.9 172.9L696.7 174.2L694.3 174.9M656.7 98.1L658.6 96.4L660.8 95.1L663.2 94.4L665.9 94.2L668.8 94.5L671.8 95.4L674.9 96.8L678.0 98.7L681.2 101.1L684.4 103.9L687.5 107.1L690.5 110.7L693.3 114.6L696.0 118.8L698.4 123.1L700.6 127.6L702.5 132.2L704.1 136.9L705.3 141.5L706.2 146.0L706.8 150.3L707.0 154.4L706.8 158.3L706.2 161.8L705.3 164.9L704.1 167.7L702.5 169.9L700.6 171.7L698.4 173.0L695.9 173.8M658.4 97.2L660.4 95.5L662.6 94.2L665.0 93.5L667.7 93.3L670.5 93.6L673.5 94.5L676.6 95.9L679.8 97.8L683.0 100.2L686.1 103.0L689.2 106.2L692.2 109.7L695.0 113.6L697.7 117.8L700.1 122.1L702.3 126.7L704.2 131.2L705.7 135.9L707.0 140.4L707.9 144.9L708.4 149.3L708.6 153.4L708.4 157.2L707.9 160.7L707.0 163.8L705.7 166.6L704.1 168.8L702.2 170.6L700.1 171.9L697.6 172.7M660.2 96.3L662.2 94.6L664.3 93.3L666.8 92.6L669.4 92.4L672.3 92.7L675.3 93.6L678.4 95.0L681.5 96.9L684.7 99.2L687.8 102.0L690.9 105.2L693.9 108.8L696.7 112.7L699.3 116.8L701.8 121.2L703.9 125.7L705.8 130.2L707.4 134.9L708.6 139.4L709.5 143.9L710.1 148.2L710.3 152.3L710.1 156.1L709.5 159.6L708.6 162.8L707.4 165.5L705.8 167.7L703.9 169.5L701.7 170.8L699.3 171.6M662.0 95.4L663.9 93.7L666.1 92.4L668.6 91.7L671.2 91.5L674.0 91.8L677.0 92.7L680.1 94.1L683.2 96.0L686.4 98.3L689.5 101.1L692.6 104.3L695.6 107.9L698.4 111.7L701.0 115.9L703.4 120.2L705.6 124.7L707.5 129.2L709.1 133.8L710.3 138.4L711.2 142.9L711.7 147.2L711.9 151.2L711.7 155.0L711.2 158.5L710.3 161.7L709.0 164.4L707.5 166.6L705.6 168.4L703.4 169.7L701.0 170.5M663.8 94.5L665.7 92.8L667.9 91.5L670.3 90.8L673.0 90.6L675.8 90.9L678.8 91.8L681.8 93.2L685.0 95.1L688.1 97.4L691.3 100.2L694.3 103.4L697.3 106.9L700.1 110.8L702.7 114.9L705.1 119.2L707.3 123.7L709.1 128.3L710.7 132.8L712.0 137.4L712.9 141.8L713.4 146.1L713.6 150.2L713.4 154.0L712.9 157.5L711.9 160.6L710.7 163.3L709.1 165.5L707.2 167.3L705.1 168.6L702.7 169.4M665.6 93.6L667.5 91.9L669.7 90.6L672.1 89.9L674.7 89.7L677.6 90.1L680.5 90.9L683.6 92.3L686.7 94.2L689.9 96.5L693.0 99.3L696.0 102.5L699.0 106.0L701.8 109.8L704.4 113.9L706.8 118.3L708.9 122.7L710.8 127.3L712.4 131.8L713.6 136.3L714.5 140.8L715.1 145.1L715.2 149.1L715.1 152.9L714.5 156.4L713.6 159.5L712.4 162.2L710.8 164.4L708.9 166.2L706.8 167.5L704.4 168.2M667.4 92.7L669.3 91.0L671.5 89.7L673.9 89.0L676.5 88.8L679.3 89.2L682.3 90.0L685.3 91.4L688.4 93.3L691.6 95.6L694.7 98.4L697.7 101.5L700.7 105.0L703.5 108.9L706.1 113.0L708.5 117.3L710.6 121.7L712.5 126.3L714.0 130.8L715.3 135.3L716.2 139.7L716.7 144.0L716.9 148.1L716.7 151.8L716.2 155.3L715.3 158.4L714.0 161.1L712.5 163.3L710.6 165.1L708.4 166.4L706.0 167.1M669.2 91.8L671.1 90.1L673.2 88.8L675.7 88.1L678.3 87.9L681.1 88.3L684.0 89.1L687.1 90.5L690.2 92.3L693.3 94.7L696.4 97.4L699.4 100.6L702.4 104.1L705.2 107.9L707.8 112.0L710.2 116.3L712.3 120.7L714.1 125.3L715.7 129.8L716.9 134.3L717.8 138.7L718.4 143.0L718.5 147.0L718.4 150.8L717.8 154.2L716.9 157.3L715.7 160.0L714.1 162.2L712.3 164.0L710.1 165.3L707.7 166.0M671.0 90.9L672.9 89.2L675.0 87.9L677.4 87.2L680.0 87.0L682.8 87.4L685.8 88.2L688.8 89.6L691.9 91.4L695.0 93.8L698.1 96.5L701.1 99.7L704.1 103.2L706.8 107.0L709.4 111.1L711.8 115.3L714.0 119.7L715.8 124.3L717.4 128.8L718.6 133.3L719.5 137.7L720.0 141.9L720.2 145.9L720.0 149.7L719.5 153.1L718.6 156.2L717.3 158.9L715.8 161.1L713.9 162.9L711.8 164.2L709.4 164.9M672.8 90.0L674.7 88.3L676.8 87.0L679.2 86.3L681.8 86.1L684.6 86.5L687.5 87.3L690.6 88.7L693.6 90.5L696.7 92.8L699.8 95.6L702.9 98.7L705.8 102.2L708.5 106.0L711.1 110.1L713.5 114.4L715.6 118.8L717.5 123.3L719.0 127.8L720.3 132.2L721.1 136.6L721.7 140.9L721.9 144.9L721.7 148.6L721.1 152.1L720.2 155.1L719.0 157.8L717.5 160.0L715.6 161.8L713.5 163.0L711.1 163.8M674.6 89.1L676.4 87.4L678.6 86.1L681.0 85.4L683.6 85.2L686.4 85.6L689.3 86.4L692.3 87.8L695.4 89.6L698.5 91.9L701.5 94.7L704.6 97.8L707.5 101.3L710.2 105.1L712.8 109.1L715.2 113.4L717.3 117.8L719.1 122.3L720.7 126.8L721.9 131.2L722.8 135.6L723.3 139.8L723.5 143.8L723.3 147.6L722.8 151.0L721.9 154.0L720.7 156.7L719.1 158.9L717.3 160.7L715.2 161.9L712.8 162.7M676.4 88.2L678.2 86.5L680.4 85.2L682.8 84.5L685.3 84.3L688.1 84.7L691.0 85.5L694.0 86.9L697.1 88.7L700.2 91.0L703.3 93.7L706.3 96.9L709.2 100.4L711.9 104.1L714.5 108.2L716.9 112.4L719.0 116.8L720.8 121.3L722.4 125.7L723.6 130.2L724.5 134.6L725.0 138.8L725.2 142.8L725.0 146.5L724.4 149.9L723.6 152.9L722.3 155.6L720.8 157.8L718.9 159.6L716.8 160.8L714.5 161.6M678.2 87.3L680.0 85.6L682.2 84.3L684.5 83.6L687.1 83.5L689.9 83.8L692.8 84.6L695.8 86.0L698.8 87.8L701.9 90.1L705.0 92.8L708.0 95.9L710.9 99.4L713.6 103.2L716.2 107.2L718.5 111.4L720.6 115.8L722.5 120.3L724.0 124.7L725.2 129.2L726.1 133.5L726.6 137.7L726.8 141.7L726.6 145.4L726.1 148.8L725.2 151.9L724.0 154.5L722.5 156.7L720.6 158.5L718.5 159.7L716.2 160.5M680.0 86.4L681.8 84.7L683.9 83.5L686.3 82.7L688.9 82.6L691.6 82.9L694.5 83.7L697.5 85.1L700.6 86.9L703.6 89.2L706.7 91.9L709.7 95.0L712.6 98.5L715.3 102.2L717.9 106.2L720.2 110.5L722.3 114.8L724.1 119.3L725.7 123.7L726.9 128.2L727.8 132.5L728.3 136.7L728.5 140.6L728.3 144.3L727.8 147.7L726.9 150.8L725.7 153.4L724.1 155.6L722.3 157.3L720.2 158.6L717.8 159.3M681.7 85.5L683.6 83.8L685.7 82.6L688.1 81.9L690.6 81.7L693.4 82.0L696.3 82.8L699.3 84.2L702.3 86.0L705.4 88.3L708.4 91.0L711.4 94.1L714.3 97.5L717.0 101.3L719.6 105.3L721.9 109.5L724.0 113.8L725.8 118.3L727.3 122.7L728.5 127.1L729.4 131.4L729.9 135.6L730.1 139.6L729.9 143.3L729.4 146.7L728.5 149.7L727.3 152.3L725.8 154.5L724.0 156.2L721.9 157.5L719.5 158.2" fill="none" stroke="#067472" stroke-width="0.39" opacity="0.7"/></g>
<ellipse cx="568.8" cy="198.4" rx="25.7" ry="50.9" transform="rotate(-26.5 568.8 198.4)" fill="url(#c2r)"/>
<g clip-path="url(#c2f)" opacity="0.85"><path d="M567.0 198.8L546.1 152.8M567.0 198.8L547.6 152.2M567.0 198.8L549.3 151.7M567.0 198.8L551.0 151.5M567.0 198.8L552.8 151.4M567.0 198.8L554.7 151.6M567.0 198.8L556.6 151.9M567.0 198.8L558.6 152.5M567.0 198.8L560.6 153.2M567.0 198.8L562.7 154.2M567.0 198.8L564.8 155.3M567.0 198.8L566.9 156.6M567.0 198.8L569.0 158.1M567.0 198.8L571.1 159.7M567.0 198.8L573.2 161.6M567.0 198.8L575.3 163.6M567.0 198.8L577.4 165.7M567.0 198.8L579.4 168.0M567.0 198.8L581.4 170.4M567.0 198.8L583.3 172.9M567.0 198.8L585.1 175.5M567.0 198.8L586.9 178.3M567.0 198.8L588.6 181.1M567.0 198.8L590.3 184.0M567.0 198.8L591.8 186.9M567.0 198.8L593.2 189.9M567.0 198.8L594.6 193.0M567.0 198.8L595.8 196.0M567.0 198.8L596.9 199.1M567.0 198.8L597.9 202.2M567.0 198.8L598.7 205.2M567.0 198.8L599.5 208.3M567.0 198.8L600.1 211.2M567.0 198.8L600.5 214.2M567.0 198.8L600.9 217.0M567.0 198.8L601.1 219.8M567.0 198.8L601.1 222.5M567.0 198.8L601.0 225.1M567.0 198.8L600.8 227.6M567.0 198.8L600.5 229.9M567.0 198.8L600.0 232.1M567.0 198.8L599.3 234.2M567.0 198.8L598.6 236.1M567.0 198.8L597.7 237.8M567.0 198.8L596.7 239.4M567.0 198.8L595.6 240.8M567.0 198.8L594.3 242.1M567.0 198.8L593.0 243.1M567.0 198.8L591.5 244.0M567.0 198.8L590.0 244.6M567.0 198.8L588.3 245.1M567.0 198.8L586.6 245.3M567.0 198.8L584.8 245.4M567.0 198.8L582.9 245.2M567.0 198.8L581.0 244.9M567.0 198.8L579.0 244.3M567.0 198.8L577.0 243.6M567.0 198.8L574.9 242.6M567.0 198.8L572.8 241.5M567.0 198.8L570.7 240.2M567.0 198.8L568.6 238.7M567.0 198.8L566.5 237.1M567.0 198.8L564.4 235.2M567.0 198.8L562.3 233.2M567.0 198.8L560.2 231.1M567.0 198.8L558.2 228.8M567.0 198.8L556.2 226.4M567.0 198.8L554.3 223.9M567.0 198.8L552.5 221.3M567.0 198.8L550.7 218.5M567.0 198.8L549.0 215.7M567.0 198.8L547.3 212.8M567.0 198.8L545.8 209.9M567.0 198.8L544.4 206.9M567.0 198.8L543.0 203.8M567.0 198.8L541.8 200.8M567.0 198.8L540.7 197.7M567.0 198.8L539.7 194.6M567.0 198.8L538.9 191.6M567.0 198.8L538.1 188.5M567.0 198.8L537.5 185.6M567.0 198.8L537.1 182.6M567.0 198.8L536.7 179.8M567.0 198.8L536.5 177.0M567.0 198.8L536.5 174.3M567.0 198.8L536.6 171.7M567.0 198.8L536.8 169.2M567.0 198.8L537.1 166.9M567.0 198.8L537.6 164.7M567.0 198.8L538.3 162.6M567.0 198.8L539.0 160.7M567.0 198.8L539.9 159.0M567.0 198.8L540.9 157.4M567.0 198.8L542.0 156.0M567.0 198.8L543.3 154.7M567.0 198.8L544.6 153.7" fill="none" stroke="#067472" stroke-width="0.37" opacity="0.45"/>
<ellipse cx="567.1" cy="198.8" rx="1.6" ry="3.2" transform="rotate(-26.5 567.1 198.8)" fill="none" stroke="#067472" stroke-width="0.46"/>
<ellipse cx="567.2" cy="198.8" rx="2.9" ry="5.8" transform="rotate(-26.5 567.2 198.8)" fill="none" stroke="#067472" stroke-width="0.46"/>
<ellipse cx="567.3" cy="198.7" rx="4.1" ry="8.1" transform="rotate(-26.5 567.3 198.7)" fill="none" stroke="#067472" stroke-width="0.46"/>
<ellipse cx="567.4" cy="198.7" rx="5.2" ry="10.4" transform="rotate(-26.5 567.4 198.7)" fill="none" stroke="#067472" stroke-width="0.46"/>
<ellipse cx="567.4" cy="198.7" rx="6.3" ry="12.5" transform="rotate(-26.5 567.4 198.7)" fill="none" stroke="#067472" stroke-width="0.46"/>
<ellipse cx="567.5" cy="198.7" rx="7.4" ry="14.6" transform="rotate(-26.5 567.5 198.7)" fill="none" stroke="#067472" stroke-width="0.46"/>
<ellipse cx="567.6" cy="198.7" rx="8.4" ry="16.7" transform="rotate(-26.5 567.6 198.7)" fill="none" stroke="#067472" stroke-width="0.46"/>
<ellipse cx="567.7" cy="198.7" rx="9.4" ry="18.7" transform="rotate(-26.5 567.7 198.7)" fill="none" stroke="#067472" stroke-width="0.46"/>
<ellipse cx="567.7" cy="198.6" rx="10.4" ry="20.7" transform="rotate(-26.5 567.7 198.6)" fill="none" stroke="#067472" stroke-width="0.46"/>
<ellipse cx="567.8" cy="198.6" rx="11.4" ry="22.6" transform="rotate(-26.5 567.8 198.6)" fill="none" stroke="#067472" stroke-width="0.46"/>
<ellipse cx="567.9" cy="198.6" rx="12.4" ry="24.5" transform="rotate(-26.5 567.9 198.6)" fill="none" stroke="#067472" stroke-width="0.46"/>
<ellipse cx="567.9" cy="198.6" rx="13.3" ry="26.4" transform="rotate(-26.5 567.9 198.6)" fill="none" stroke="#067472" stroke-width="0.46"/>
<ellipse cx="568.0" cy="198.6" rx="14.3" ry="28.2" transform="rotate(-26.5 568.0 198.6)" fill="none" stroke="#067472" stroke-width="0.46"/>
<ellipse cx="568.1" cy="198.6" rx="15.2" ry="30.1" transform="rotate(-26.5 568.1 198.6)" fill="none" stroke="#067472" stroke-width="0.46"/>
<ellipse cx="568.1" cy="198.5" rx="16.1" ry="31.9" transform="rotate(-26.5 568.1 198.5)" fill="none" stroke="#067472" stroke-width="0.46"/>
<ellipse cx="568.2" cy="198.5" rx="17.0" ry="33.7" transform="rotate(-26.5 568.2 198.5)" fill="none" stroke="#067472" stroke-width="0.46"/>
<ellipse cx="568.3" cy="198.5" rx="17.9" ry="35.5" transform="rotate(-26.5 568.3 198.5)" fill="none" stroke="#067472" stroke-width="0.46"/>
<ellipse cx="568.3" cy="198.5" rx="18.8" ry="37.2" transform="rotate(-26.5 568.3 198.5)" fill="none" stroke="#067472" stroke-width="0.46"/>
<ellipse cx="568.4" cy="198.5" rx="19.7" ry="39.0" transform="rotate(-26.5 568.4 198.5)" fill="none" stroke="#067472" stroke-width="0.46"/>
<ellipse cx="568.4" cy="198.5" rx="20.6" ry="40.7" transform="rotate(-26.5 568.4 198.5)" fill="none" stroke="#067472" stroke-width="0.46"/>
<ellipse cx="568.5" cy="198.5" rx="21.4" ry="42.4" transform="rotate(-26.5 568.5 198.5)" fill="none" stroke="#067472" stroke-width="0.46"/>
<ellipse cx="568.6" cy="198.5" rx="22.3" ry="44.2" transform="rotate(-26.5 568.6 198.5)" fill="none" stroke="#067472" stroke-width="0.46"/>
<ellipse cx="568.6" cy="198.4" rx="23.2" ry="45.9" transform="rotate(-26.5 568.6 198.4)" fill="none" stroke="#067472" stroke-width="0.46"/>
<ellipse cx="568.7" cy="198.4" rx="24.0" ry="47.6" transform="rotate(-26.5 568.7 198.4)" fill="none" stroke="#067472" stroke-width="0.46"/>
<ellipse cx="568.7" cy="198.4" rx="24.9" ry="49.2" transform="rotate(-26.5 568.7 198.4)" fill="none" stroke="#067472" stroke-width="0.46"/>
<ellipse cx="568.8" cy="198.4" rx="25.7" ry="50.9" transform="rotate(-26.5 568.8 198.4)" fill="none" stroke="#067472" stroke-width="0.46"/>
</g>
<line x1="546.0" y1="152.9" x2="622.2" y2="114.5" stroke="#04403e" stroke-width="1.1"/>
<ellipse cx="577.5" cy="211" rx="3" ry="4.5" transform="rotate(-32 577.5 211)" fill="url(#blob)" opacity="0.5"/><ellipse cx="569" cy="199.6" rx="4.4" ry="11.6" transform="rotate(-32 569 199.6)" fill="#0fa8a0" fill-opacity="0.6" stroke="#088a84" stroke-width="0.6"/><ellipse cx="567.6" cy="198.4" rx="2.6" ry="8.6" transform="rotate(-32 567.6 198.4)" fill="#088078"/><ellipse cx="567.5" cy="198.2" rx="1.5" ry="6.6" transform="rotate(-32 567.5 198.2)" fill="#032a2a"/>
</g>
<line x1="511.2" y1="234.4" x2="566.6" y2="200" stroke="#0a5452" stroke-width="2.3" stroke-linecap="round"/>
<clipPath id="c3"><rect x="500" y="257.7" width="179.20000000000005" height="113.18518877906837"/></clipPath>
<clipPath id="c3b"><path d="M545.7 271.2 L903.1 92.4 L929.2 140.9 L597.9 368.2 L571.1 320.1 Z"/></clipPath>
<clipPath id="c3f"><ellipse cx="571.1" cy="320.1" rx="25.2" ry="55.1" transform="rotate(-27.7 571.1 320.1)"/></clipPath>
<linearGradient id="c3g" gradientUnits="userSpaceOnUse" x1="545.7" y1="271.2" x2="607.6" y2="361.5"><stop offset="0" stop-color="#10d8d0"/><stop offset="0.45" stop-color="#0cc4bc"/><stop offset="1" stop-color="#06928c"/></linearGradient>
<radialGradient id="c3r" gradientUnits="userSpaceOnUse" cx="0" cy="0" r="1" gradientTransform="translate(571.3 321.3) rotate(-27.7) scale(27.7 60.6)"><stop offset="0" stop-color="#055a58"/><stop offset="0.12" stop-color="#0a9a94"/><stop offset="0.45" stop-color="#0ec8c0"/><stop offset="1" stop-color="#12d4cc"/></radialGradient>
<g clip-path="url(#c3)">
<path d="M545.7 271.2 L903.1 92.4 L929.2 140.9 L597.9 368.2 L571.1 320.1 Z" fill="url(#c3g)"/>
<g clip-path="url(#c3b)"><path d="M545.7 271.2L903.1 92.4M547.6 270.5L904.1 92.0M549.7 270.0L905.1 91.8M551.9 269.9L906.2 91.8M554.2 270.2L907.4 91.9M556.6 270.7L908.6 92.2M559.2 271.6L909.8 92.6M561.8 272.8L911.2 93.2M564.4 274.3L912.5 94.0M567.2 276.1L913.8 94.9M569.9 278.2L915.2 95.9M572.7 280.6L916.6 97.1M575.4 283.2L918.0 98.4M578.1 286.1L919.3 99.9M580.8 289.2L920.7 101.4M583.4 292.5L922.0 103.1M585.9 296.0L923.2 104.8M588.3 299.6L924.4 106.6M590.6 303.4L925.6 108.5M592.8 307.3L926.7 110.5M594.9 311.2L927.7 112.4M596.8 315.3L928.6 114.5M598.5 319.3L929.5 116.5M600.0 323.4L930.3 118.5M601.4 327.4L930.9 120.5M602.5 331.4L931.5 122.5M603.5 335.3L932.0 124.5M604.2 339.2L932.4 126.4M604.7 342.9L932.6 128.2M605.0 346.4L932.8 130.0M605.1 349.8L932.8 131.7M604.9 353.0L932.7 133.3M604.5 355.9L932.5 134.8M603.9 358.6L932.2 136.1M603.1 361.1L931.8 137.4M602.1 363.3L931.3 138.5M600.9 365.2L930.7 139.4M599.5 366.9L930.0 140.2M597.9 368.2L929.2 140.9" fill="none" stroke="#067478" stroke-width="0.69"/><path d="M543.9 273.3L546.0 271.3L548.6 269.8L551.4 269.0L554.6 268.9L558.0 269.4L561.6 270.7L565.3 272.5L569.2 275.0L573.1 278.1L577.0 281.7L580.9 285.8L584.7 290.4L588.3 295.3L591.7 300.6L594.8 306.1L597.7 311.8L600.2 317.6L602.4 323.4L604.2 329.1L605.6 334.7L606.5 340.1L607.0 345.2L607.0 349.9L606.6 354.2L605.7 358.1L604.4 361.4L602.6 364.2L600.5 366.3L598.0 367.8L595.2 368.7M546.0 272.3L548.2 270.2L550.7 268.7L553.5 267.9L556.7 267.8L560.1 268.4L563.7 269.6L567.4 271.4L571.3 273.9L575.2 277.0L579.1 280.6L582.9 284.7L586.7 289.2L590.3 294.2L593.7 299.4L596.8 304.9L599.7 310.6L602.2 316.3L604.4 322.1L606.2 327.8L607.5 333.4L608.4 338.8L608.9 343.9L609.0 348.6L608.5 352.9L607.7 356.8L606.4 360.1L604.6 362.8L602.5 365.0L600.0 366.5L597.2 367.3M548.2 271.2L550.3 269.1L552.8 267.7L555.7 266.9L558.8 266.8L562.2 267.3L565.8 268.5L569.5 270.4L573.3 272.8L577.2 275.9L581.1 279.5L585.0 283.6L588.7 288.1L592.3 293.0L595.7 298.3L598.8 303.7L601.7 309.4L604.2 315.1L606.4 320.9L608.1 326.6L609.5 332.2L610.4 337.5L610.9 342.6L610.9 347.3L610.5 351.6L609.6 355.4L608.3 358.7L606.6 361.5L604.5 363.6L602.0 365.1L599.2 366.0M550.3 270.1L552.5 268.0L555.0 266.6L557.8 265.8L560.9 265.7L564.3 266.2L567.9 267.4L571.6 269.3L575.4 271.7L579.3 274.8L583.2 278.4L587.0 282.5L590.8 287.0L594.3 291.9L597.7 297.1L600.8 302.6L603.7 308.2L606.2 313.9L608.3 319.7L610.1 325.3L611.5 330.9L612.4 336.2L612.9 341.3L612.9 346.0L612.5 350.3L611.6 354.1L610.3 357.4L608.6 360.1L606.5 362.3L604.0 363.7L601.2 364.6M552.5 269.0L554.6 267.0L557.1 265.5L559.9 264.7L563.1 264.6L566.4 265.2L570.0 266.4L573.7 268.2L577.5 270.7L581.4 273.7L585.2 277.3L589.1 281.3L592.8 285.8L596.4 290.7L599.7 295.9L602.8 301.4L605.7 307.0L608.2 312.7L610.3 318.4L612.1 324.1L613.4 329.6L614.3 334.9L614.8 340.0L614.9 344.7L614.4 348.9L613.6 352.8L612.3 356.0L610.6 358.8L608.5 360.9L606.0 362.4L603.2 363.2M554.6 267.9L556.8 265.9L559.3 264.5L562.1 263.7L565.2 263.6L568.5 264.1L572.1 265.3L575.8 267.1L579.6 269.6L583.4 272.6L587.3 276.2L591.1 280.2L594.8 284.7L598.4 289.6L601.7 294.8L604.8 300.2L607.7 305.8L610.2 311.5L612.3 317.2L614.1 322.8L615.4 328.4L616.3 333.7L616.8 338.7L616.8 343.4L616.4 347.6L615.5 351.4L614.2 354.7L612.5 357.4L610.4 359.5L608.0 361.0L605.2 361.9M556.8 266.9L558.9 264.8L561.4 263.4L564.2 262.6L567.3 262.5L570.6 263.0L574.2 264.2L577.9 266.0L581.7 268.5L585.5 271.5L589.4 275.1L593.2 279.1L596.9 283.6L600.4 288.4L603.7 293.6L606.8 299.0L609.7 304.6L612.1 310.3L614.3 316.0L616.0 321.6L617.4 327.1L618.3 332.4L618.8 337.4L618.8 342.0L618.4 346.3L617.5 350.1L616.2 353.4L614.5 356.1L612.4 358.2L610.0 359.7L607.2 360.5M559.0 265.8L561.1 263.7L563.5 262.3L566.3 261.5L569.4 261.4L572.8 262.0L576.3 263.1L580.0 265.0L583.7 267.4L587.6 270.4L591.4 273.9L595.2 278.0L598.9 282.4L602.4 287.3L605.8 292.4L608.8 297.8L611.6 303.4L614.1 309.1L616.3 314.7L618.0 320.3L619.3 325.8L620.3 331.1L620.7 336.1L620.7 340.7L620.3 345.0L619.5 348.7L618.2 352.0L616.5 354.7L614.4 356.8L612.0 358.3L609.2 359.1M561.1 264.7L563.2 262.7L565.7 261.2L568.5 260.5L571.5 260.3L574.9 260.9L578.4 262.1L582.1 263.9L585.8 266.3L589.6 269.3L593.5 272.8L597.2 276.9L600.9 281.3L604.4 286.1L607.8 291.3L610.8 296.7L613.6 302.2L616.1 307.8L618.2 313.5L620.0 319.1L621.3 324.6L622.2 329.8L622.7 334.8L622.7 339.4L622.3 343.6L621.4 347.4L620.2 350.7L618.5 353.3L616.4 355.4L614.0 356.9L611.2 357.8M563.3 263.6L565.4 261.6L567.8 260.2L570.6 259.4L573.7 259.3L577.0 259.8L580.5 261.0L584.1 262.8L587.9 265.2L591.7 268.2L595.5 271.7L599.3 275.7L603.0 280.2L606.5 285.0L609.8 290.1L612.8 295.5L615.6 301.0L618.1 306.6L620.2 312.3L622.0 317.8L623.3 323.3L624.2 328.5L624.7 333.5L624.7 338.1L624.3 342.3L623.4 346.1L622.1 349.3L620.5 352.0L618.4 354.1L616.0 355.6L613.2 356.4M565.4 262.5L567.5 260.5L570.0 259.1L572.7 258.3L575.8 258.2L579.1 258.7L582.6 259.9L586.2 261.7L590.0 264.1L593.8 267.1L597.6 270.6L601.3 274.6L605.0 279.0L608.5 283.8L611.8 289.0L614.9 294.3L617.6 299.8L620.1 305.4L622.2 311.0L623.9 316.6L625.3 322.0L626.2 327.2L626.6 332.2L626.6 336.8L626.2 341.0L625.4 344.7L624.1 348.0L622.4 350.6L620.4 352.7L618.0 354.2L615.2 355.0M567.6 261.4L569.7 259.4L572.1 258.0L574.9 257.3L577.9 257.1L581.2 257.7L584.7 258.8L588.3 260.6L592.1 263.0L595.8 266.0L599.6 269.5L603.4 273.5L607.0 277.9L610.5 282.7L613.8 287.8L616.9 293.1L619.6 298.6L622.1 304.2L624.2 309.8L625.9 315.3L627.2 320.8L628.1 326.0L628.6 330.9L628.6 335.5L628.2 339.7L627.4 343.4L626.1 346.6L624.4 349.3L622.4 351.4L619.9 352.8L617.2 353.6M569.7 260.4L571.8 258.4L574.3 257.0L577.0 256.2L580.0 256.1L583.3 256.6L586.8 257.8L590.4 259.6L594.1 262.0L597.9 264.9L601.7 268.4L605.4 272.4L609.0 276.8L612.5 281.6L615.8 286.6L618.9 291.9L621.6 297.4L624.1 303.0L626.2 308.6L627.9 314.1L629.2 319.5L630.1 324.7L630.6 329.6L630.6 334.2L630.2 338.3L629.3 342.1L628.1 345.3L626.4 347.9L624.3 350.0L621.9 351.5L619.2 352.3M571.9 259.3L574.0 257.3L576.4 255.9L579.1 255.1L582.2 255.0L585.4 255.5L588.9 256.7L592.5 258.5L596.2 260.9L600.0 263.8L603.8 267.3L607.5 271.3L611.1 275.6L614.6 280.4L617.8 285.5L620.9 290.8L623.6 296.2L626.0 301.8L628.1 307.3L629.8 312.8L631.2 318.2L632.1 323.4L632.5 328.3L632.5 332.9L632.1 337.0L631.3 340.7L630.0 343.9L628.4 346.6L626.3 348.6L623.9 350.1L621.2 350.9M574.0 258.2L576.1 256.2L578.5 254.8L581.3 254.1L584.3 253.9L587.5 254.5L591.0 255.6L594.6 257.4L598.3 259.8L602.1 262.7L605.8 266.2L609.5 270.1L613.1 274.5L616.6 279.3L619.8 284.3L622.9 289.6L625.6 295.0L628.0 300.6L630.1 306.1L631.8 311.6L633.1 317.0L634.0 322.1L634.5 327.0L634.5 331.5L634.1 335.7L633.3 339.4L632.0 342.6L630.3 345.2L628.3 347.3L625.9 348.7L623.2 349.5M576.2 257.1L578.3 255.1L580.7 253.7L583.4 253.0L586.4 252.9L589.7 253.4L593.1 254.5L596.7 256.3L600.4 258.7L604.1 261.6L607.9 265.1L611.6 269.0L615.1 273.4L618.6 278.1L621.8 283.1L624.9 288.4L627.6 293.8L630.0 299.3L632.1 304.9L633.8 310.3L635.1 315.7L636.0 320.8L636.4 325.7L636.5 330.2L636.1 334.4L635.2 338.0L634.0 341.2L632.3 343.9L630.3 345.9L627.9 347.4L625.2 348.2M578.4 256.0L580.4 254.0L582.8 252.7L585.5 251.9L588.5 251.8L591.8 252.3L595.2 253.5L598.8 255.2L602.5 257.6L606.2 260.5L609.9 264.0L613.6 267.9L617.2 272.2L620.6 277.0L623.9 282.0L626.9 287.2L629.6 292.6L632.0 298.1L634.1 303.6L635.8 309.1L637.1 314.4L638.0 319.5L638.4 324.4L638.4 328.9L638.0 333.0L637.2 336.7L636.0 339.9L634.3 342.5L632.3 344.6L629.9 346.0L627.2 346.8M580.5 255.0L582.6 253.0L585.0 251.6L587.7 250.8L590.7 250.7L593.9 251.2L597.3 252.4L600.9 254.2L604.5 256.5L608.3 259.4L612.0 262.9L615.6 266.8L619.2 271.1L622.6 275.8L625.9 280.8L628.9 286.0L631.6 291.4L634.0 296.9L636.1 302.4L637.7 307.8L639.0 313.2L639.9 318.3L640.4 323.1L640.4 327.6L640.0 331.7L639.2 335.4L637.9 338.5L636.3 341.2L634.3 343.2L631.9 344.6L629.2 345.4M582.7 253.9L584.7 251.9L587.1 250.5L589.8 249.8L592.8 249.7L596.0 250.2L599.4 251.3L603.0 253.1L606.6 255.4L610.3 258.3L614.0 261.8L617.7 265.7L621.2 270.0L624.7 274.7L627.9 279.6L630.9 284.9L633.6 290.2L636.0 295.7L638.0 301.2L639.7 306.6L641.0 311.9L641.9 317.0L642.3 321.8L642.4 326.3L642.0 330.4L641.1 334.0L639.9 337.2L638.3 339.8L636.3 341.8L633.9 343.3L631.2 344.1M584.8 252.8L586.9 250.8L589.2 249.5L591.9 248.7L594.9 248.6L598.1 249.1L601.5 250.3L605.1 252.0L608.7 254.3L612.4 257.2L616.1 260.7L619.7 264.5L623.3 268.9L626.7 273.5L629.9 278.5L632.9 283.7L635.6 289.0L638.0 294.5L640.0 299.9L641.7 305.3L643.0 310.6L643.9 315.7L644.3 320.5L644.3 325.0L643.9 329.1L643.1 332.7L641.9 335.8L640.2 338.4L638.2 340.5L635.9 341.9L633.2 342.7M587.0 251.7L589.0 249.7L591.4 248.4L594.1 247.6L597.0 247.5L600.2 248.0L603.6 249.2L607.1 250.9L610.8 253.3L614.5 256.2L618.1 259.6L621.8 263.4L625.3 267.7L628.7 272.4L631.9 277.3L634.9 282.5L637.6 287.8L640.0 293.3L642.0 298.7L643.7 304.1L645.0 309.4L645.8 314.4L646.3 319.2L646.3 323.7L645.9 327.7L645.1 331.4L643.8 334.5L642.2 337.1L640.2 339.1L637.9 340.5L635.2 341.3M589.1 250.6L591.2 248.7L593.5 247.3L596.2 246.6L599.2 246.5L602.3 247.0L605.7 248.1L609.2 249.8L612.9 252.2L616.5 255.1L620.2 258.4L623.8 262.3L627.3 266.6L630.7 271.2L633.9 276.2L636.9 281.3L639.6 286.6L641.9 292.0L644.0 297.5L645.6 302.8L646.9 308.1L647.8 313.1L648.2 317.9L648.3 322.4L647.9 326.4L647.1 330.0L645.8 333.1L644.2 335.7L642.2 337.7L639.9 339.2L637.2 340.0M591.3 249.5L593.3 247.6L595.7 246.2L598.3 245.5L601.3 245.4L604.5 245.9L607.8 247.0L611.3 248.8L614.9 251.1L618.6 254.0L622.3 257.3L625.9 261.2L629.4 265.5L632.7 270.1L635.9 275.0L638.9 280.1L641.6 285.4L643.9 290.8L646.0 296.2L647.6 301.6L648.9 306.8L649.8 311.9L650.2 316.6L650.2 321.0L649.8 325.1L649.0 328.7L647.8 331.8L646.2 334.4L644.2 336.4L641.9 337.8L639.2 338.6M593.4 248.5L595.5 246.5L597.8 245.2L600.5 244.4L603.4 244.3L606.6 244.8L609.9 246.0L613.4 247.7L617.0 250.0L620.7 252.9L624.3 256.2L627.9 260.1L631.4 264.3L634.8 268.9L637.9 273.8L640.9 279.0L643.5 284.2L645.9 289.6L647.9 295.0L649.6 300.3L650.9 305.6L651.7 310.6L652.2 315.3L652.2 319.7L651.8 323.8L651.0 327.4L649.8 330.5L648.2 333.0L646.2 335.0L643.9 336.4L641.2 337.2M595.6 247.4L597.6 245.4L600.0 244.1L602.6 243.4L605.5 243.2L608.7 243.8L612.0 244.9L615.5 246.6L619.1 248.9L622.7 251.8L626.4 255.1L630.0 258.9L633.4 263.2L636.8 267.8L640.0 272.7L642.9 277.8L645.5 283.0L647.9 288.4L649.9 293.8L651.6 299.1L652.8 304.3L653.7 309.3L654.1 314.0L654.2 318.4L653.8 322.4L653.0 326.0L651.7 329.1L650.1 331.7L648.2 333.7L645.9 335.1L643.2 335.9M597.8 246.3L599.8 244.4L602.1 243.0L604.7 242.3L607.6 242.2L610.8 242.7L614.1 243.8L617.6 245.5L621.2 247.8L624.8 250.7L628.4 254.0L632.0 257.8L635.5 262.1L638.8 266.6L642.0 271.5L644.9 276.6L647.5 281.8L649.9 287.2L651.9 292.5L653.5 297.8L654.8 303.0L655.7 308.0L656.1 312.7L656.1 317.1L655.7 321.1L654.9 324.7L653.7 327.8L652.1 330.3L650.1 332.3L647.8 333.7L645.2 334.5M599.9 245.2L601.9 243.3L604.2 242.0L606.9 241.2L609.8 241.1L612.9 241.6L616.2 242.7L619.7 244.5L623.3 246.7L626.9 249.6L630.5 252.9L634.0 256.7L637.5 260.9L640.8 265.5L644.0 270.3L646.9 275.4L649.5 280.6L651.9 286.0L653.9 291.3L655.5 296.6L656.8 301.8L657.6 306.7L658.1 311.4L658.1 315.8L657.7 319.8L656.9 323.3L655.7 326.4L654.1 329.0L652.1 330.9L649.8 332.3L647.2 333.1M602.1 244.1L604.1 242.2L606.4 240.9L609.0 240.2L611.9 240.0L615.0 240.5L618.3 241.7L621.8 243.4L625.3 245.7L628.9 248.5L632.5 251.8L636.1 255.6L639.5 259.8L642.9 264.3L646.0 269.2L648.9 274.2L651.5 279.4L653.9 284.8L655.9 290.1L657.5 295.3L658.7 300.5L659.6 305.4L660.0 310.1L660.1 314.5L659.7 318.5L658.9 322.0L657.7 325.1L656.1 327.6L654.1 329.6L651.8 331.0L649.2 331.7M604.2 243.1L606.2 241.1L608.5 239.8L611.1 239.1L614.0 239.0L617.1 239.5L620.4 240.6L623.9 242.3L627.4 244.6L631.0 247.4L634.6 250.7L638.1 254.5L641.6 258.7L644.9 263.2L648.0 268.0L650.9 273.0L653.5 278.3L655.8 283.5L657.8 288.8L659.5 294.1L660.7 299.2L661.6 304.2L662.0 308.8L662.0 313.2L661.6 317.1L660.8 320.7L659.6 323.7L658.1 326.2L656.1 328.2L653.8 329.6L651.2 330.4M606.4 242.0L608.4 240.1L610.7 238.7L613.3 238.0L616.1 237.9L619.2 238.4L622.5 239.5L626.0 241.2L629.5 243.5L633.1 246.3L636.6 249.6L640.2 253.4L643.6 257.5L646.9 262.0L650.0 266.8L652.9 271.9L655.5 277.1L657.8 282.3L659.8 287.6L661.4 292.8L662.7 298.0L663.5 302.9L664.0 307.5L664.0 311.9L663.6 315.8L662.8 319.3L661.6 322.4L660.0 324.9L658.1 326.8L655.8 328.2L653.2 329.0M608.5 240.9L610.5 239.0L612.8 237.7L615.4 236.9L618.3 236.8L621.4 237.3L624.6 238.4L628.1 240.1L631.6 242.4L635.1 245.2L638.7 248.5L642.2 252.2L645.6 256.4L648.9 260.9L652.0 265.7L654.9 270.7L657.5 275.9L659.8 281.1L661.8 286.4L663.4 291.6L664.7 296.7L665.5 301.6L665.9 306.2L666.0 310.6L665.6 314.5L664.8 318.0L663.6 321.0L662.0 323.5L660.1 325.5L657.8 326.9L655.2 327.6M610.7 239.8L612.7 237.9L614.9 236.6L617.5 235.9L620.4 235.8L623.5 236.3L626.7 237.4L630.1 239.1L633.6 241.3L637.2 244.1L640.8 247.4L644.3 251.1L647.7 255.3L650.9 259.7L654.0 264.5L656.9 269.5L659.5 274.7L661.8 279.9L663.8 285.2L665.4 290.4L666.6 295.4L667.5 300.3L667.9 304.9L667.9 309.2L667.5 313.2L666.7 316.7L665.6 319.7L664.0 322.2L662.1 324.1L659.8 325.5L657.2 326.3M612.8 238.7L614.8 236.8L617.1 235.5L619.7 234.8L622.5 234.7L625.6 235.2L628.8 236.3L632.2 238.0L635.7 240.2L639.3 243.0L642.8 246.3L646.3 250.0L649.7 254.1L653.0 258.6L656.0 263.3L658.9 268.3L661.5 273.5L663.8 278.7L665.7 283.9L667.4 289.1L668.6 294.2L669.4 299.0L669.9 303.6L669.9 307.9L669.5 311.8L668.7 315.3L667.5 318.3L666.0 320.8L664.0 322.8L661.8 324.1L659.2 324.9M615.0 237.6L616.9 235.8L619.2 234.5L621.8 233.7L624.6 233.6L627.7 234.1L630.9 235.2L634.3 236.9L637.8 239.1L641.3 241.9L644.9 245.2L648.4 248.9L651.7 253.0L655.0 257.4L658.1 262.2L660.9 267.1L663.5 272.3L665.8 277.5L667.7 282.7L669.3 287.9L670.6 292.9L671.4 297.7L671.8 302.3L671.9 306.6L671.5 310.5L670.7 314.0L669.5 317.0L667.9 319.5L666.0 321.4L663.8 322.8L661.2 323.5M617.2 236.6L619.1 234.7L621.4 233.4L623.9 232.7L626.8 232.6L629.8 233.1L633.0 234.1L636.4 235.8L639.9 238.0L643.4 240.8L646.9 244.1L650.4 247.8L653.8 251.9L657.0 256.3L660.1 261.0L662.9 266.0L665.5 271.1L667.8 276.3L669.7 281.5L671.3 286.6L672.5 291.6L673.4 296.5L673.8 301.0L673.8 305.3L673.4 309.2L672.7 312.6L671.5 315.6L669.9 318.1L668.0 320.0L665.8 321.4L663.2 322.2M619.3 235.5L621.2 233.6L623.5 232.3L626.1 231.6L628.9 231.5L631.9 232.0L635.1 233.1L638.5 234.7L642.0 237.0L645.5 239.7L649.0 242.9L652.4 246.6L655.8 250.7L659.0 255.1L662.1 259.9L664.9 264.8L667.5 269.9L669.7 275.0L671.7 280.2L673.3 285.4L674.5 290.4L675.3 295.2L675.8 299.7L675.8 304.0L675.4 307.9L674.6 311.3L673.5 314.3L671.9 316.8L670.0 318.7L667.8 320.0L665.2 320.8M621.5 234.4L623.4 232.5L625.6 231.2L628.2 230.5L631.0 230.4L634.0 230.9L637.2 232.0L640.6 233.7L644.0 235.9L647.5 238.6L651.0 241.8L654.5 245.5L657.8 249.6L661.1 254.0L664.1 258.7L666.9 263.6L669.5 268.7L671.7 273.8L673.7 279.0L675.3 284.1L676.5 289.1L677.3 293.9L677.7 298.4L677.8 302.7L677.4 306.5L676.6 310.0L675.4 312.9L673.9 315.4L672.0 317.3L669.8 318.7L667.2 319.4M623.6 233.3L625.5 231.5L627.8 230.2L630.3 229.5L633.1 229.4L636.1 229.8L639.4 230.9L642.7 232.6L646.1 234.8L649.6 237.5L653.1 240.7L656.5 244.4L659.9 248.5L663.1 252.9L666.1 257.5L668.9 262.4L671.5 267.5L673.7 272.6L675.6 277.8L677.2 282.9L678.4 287.8L679.3 292.6L679.7 297.1L679.7 301.4L679.3 305.2L678.6 308.6L677.4 311.6L675.9 314.0L674.0 316.0L671.8 317.3L669.2 318.1M625.8 232.2L627.7 230.4L629.9 229.1L632.5 228.4L635.3 228.3L638.3 228.8L641.5 229.9L644.8 231.5L648.2 233.7L651.7 236.4L655.1 239.6L658.6 243.3L661.9 247.3L665.1 251.7L668.1 256.4L670.9 261.2L673.5 266.3L675.7 271.4L677.6 276.5L679.2 281.6L680.4 286.6L681.2 291.3L681.7 295.8L681.7 300.1L681.3 303.9L680.5 307.3L679.4 310.3L677.8 312.7L676.0 314.6L673.7 315.9L671.2 316.7M627.9 231.2L629.8 229.3L632.1 228.0L634.6 227.3L637.4 227.2L640.4 227.7L643.6 228.8L646.9 230.4L650.3 232.6L653.7 235.3L657.2 238.5L660.6 242.2L663.9 246.2L667.1 250.6L670.1 255.2L672.9 260.1L675.4 265.1L677.7 270.2L679.6 275.3L681.2 280.4L682.4 285.3L683.2 290.0L683.6 294.5L683.7 298.7L683.3 302.6L682.5 306.0L681.3 308.9L679.8 311.3L677.9 313.2L675.7 314.6L673.2 315.3M630.1 230.1L632.0 228.2L634.2 227.0L636.7 226.3L639.5 226.2L642.5 226.6L645.7 227.7L649.0 229.3L652.4 231.5L655.8 234.2L659.3 237.4L662.7 241.0L666.0 245.1L669.1 249.4L672.1 254.0L674.9 258.9L677.4 263.9L679.7 269.0L681.6 274.1L683.2 279.1L684.4 284.0L685.2 288.8L685.6 293.3L685.6 297.4L685.2 301.2L684.5 304.6L683.3 307.6L681.8 310.0L679.9 311.9L677.7 313.2L675.2 314.0M632.2 229.0L634.1 227.2L636.4 225.9L638.9 225.2L641.6 225.1L644.6 225.6L647.8 226.6L651.1 228.3L654.4 230.4L657.9 233.1L661.3 236.3L664.7 239.9L668.0 243.9L671.2 248.3L674.2 252.9L676.9 257.7L679.4 262.7L681.7 267.7L683.6 272.8L685.1 277.9L686.3 282.8L687.1 287.5L687.6 292.0L687.6 296.1L687.2 299.9L686.4 303.3L685.3 306.2L683.8 308.6L681.9 310.5L679.7 311.8L677.2 312.6M634.4 227.9L636.3 226.1L638.5 224.8L641.0 224.1L643.7 224.0L646.7 224.5L649.9 225.6L653.1 227.2L656.5 229.4L659.9 232.0L663.4 235.2L666.7 238.8L670.0 242.8L673.2 247.1L676.2 251.7L678.9 256.5L681.4 261.5L683.6 266.5L685.5 271.6L687.1 276.6L688.3 281.5L689.1 286.2L689.5 290.7L689.5 294.8L689.2 298.6L688.4 302.0L687.3 304.9L685.8 307.3L683.9 309.1L681.7 310.5L679.2 311.2M636.6 226.8L638.4 225.0L640.6 223.7L643.1 223.1L645.9 222.9L648.8 223.4L652.0 224.5L655.2 226.1L658.6 228.3L662.0 230.9L665.4 234.1L668.8 237.7L672.1 241.7L675.2 246.0L678.2 250.5L680.9 255.3L683.4 260.3L685.6 265.3L687.5 270.4L689.1 275.4L690.3 280.2L691.1 284.9L691.5 289.4L691.5 293.5L691.1 297.3L690.4 300.6L689.2 303.5L687.7 305.9L685.9 307.8L683.7 309.1L681.2 309.8M638.7 225.7L640.6 223.9L642.8 222.7L645.3 222.0L648.0 221.9L650.9 222.4L654.1 223.4L657.3 225.0L660.7 227.2L664.1 229.8L667.5 233.0L670.8 236.6L674.1 240.5L677.2 244.8L680.2 249.4L682.9 254.2L685.4 259.1L687.6 264.1L689.5 269.1L691.0 274.1L692.2 279.0L693.0 283.6L693.5 288.1L693.5 292.2L693.1 295.9L692.4 299.3L691.2 302.2L689.7 304.6L687.9 306.4L685.7 307.7L683.2 308.5M640.9 224.7L642.7 222.9L644.9 221.6L647.4 220.9L650.1 220.8L653.1 221.3L656.2 222.3L659.4 223.9L662.8 226.1L666.1 228.7L669.5 231.9L672.9 235.4L676.1 239.4L679.3 243.7L682.2 248.2L684.9 253.0L687.4 257.9L689.6 262.9L691.5 267.9L693.0 272.9L694.2 277.7L695.0 282.4L695.4 286.8L695.4 290.9L695.1 294.6L694.3 297.9L693.2 300.8L691.7 303.2L689.9 305.1L687.7 306.4L685.3 307.1M643.0 223.6L644.9 221.8L647.1 220.5L649.5 219.8L652.2 219.7L655.2 220.2L658.3 221.3L661.5 222.9L664.8 225.0L668.2 227.7L671.6 230.8L674.9 234.3L678.2 238.3L681.3 242.5L684.2 247.1L686.9 251.8L689.4 256.7L691.6 261.7L693.5 266.7L695.0 271.6L696.2 276.4L697.0 281.1L697.4 285.5L697.4 289.6L697.0 293.3L696.3 296.6L695.2 299.5L693.7 301.9L691.8 303.7L689.7 305.0L687.3 305.7M645.2 222.5L647.0 220.7L649.2 219.5L651.7 218.8L654.4 218.7L657.3 219.1L660.4 220.2L663.6 221.8L666.9 223.9L670.3 226.6L673.6 229.7L677.0 233.2L680.2 237.1L683.3 241.4L686.2 245.9L688.9 250.6L691.4 255.5L693.6 260.5L695.4 265.4L697.0 270.4L698.1 275.2L698.9 279.8L699.4 284.2L699.4 288.2L699.0 292.0L698.3 295.3L697.1 298.1L695.6 300.5L693.8 302.3L691.7 303.6L689.3 304.4M647.3 221.4L649.2 219.6L651.3 218.4L653.8 217.7L656.5 217.6L659.4 218.1L662.5 219.1L665.7 220.7L669.0 222.8L672.4 225.5L675.7 228.6L679.0 232.1L682.2 236.0L685.3 240.2L688.2 244.7L690.9 249.4L693.4 254.3L695.6 259.2L697.4 264.2L698.9 269.1L700.1 273.9L700.9 278.5L701.3 282.9L701.3 286.9L701.0 290.6L700.2 293.9L699.1 296.8L697.6 299.1L695.8 301.0L693.7 302.3L691.3 303.0M649.5 220.3L651.3 218.6L653.5 217.3L655.9 216.6L658.6 216.5L661.5 217.0L664.6 218.0L667.8 219.6L671.1 221.7L674.4 224.4L677.8 227.4L681.1 231.0L684.3 234.9L687.3 239.1L690.2 243.6L692.9 248.3L695.4 253.1L697.5 258.0L699.4 263.0L700.9 267.9L702.1 272.6L702.9 277.2L703.3 281.6L703.3 285.6L702.9 289.3L702.2 292.6L701.1 295.4L699.6 297.8L697.8 299.6L695.7 300.9L693.3 301.6M651.6 219.3L653.5 217.5L655.6 216.2L658.1 215.6L660.7 215.5L663.6 215.9L666.7 217.0L669.9 218.5L673.2 220.7L676.5 223.3L679.8 226.3L683.1 229.8L686.3 233.7L689.4 237.9L692.3 242.4L694.9 247.1L697.4 251.9L699.5 256.8L701.4 261.7L702.9 266.6L704.1 271.4L704.8 275.9L705.3 280.3L705.3 284.3L704.9 288.0L704.2 291.3L703.1 294.1L701.6 296.4L699.8 298.3L697.7 299.5L695.3 300.3M653.8 218.2L655.6 216.4L657.8 215.2L660.2 214.5L662.9 214.4L665.7 214.9L668.8 215.9L672.0 217.5L675.2 219.6L678.6 222.2L681.9 225.2L685.1 228.7L688.3 232.6L691.4 236.8L694.3 241.2L696.9 245.9L699.4 250.7L701.5 255.6L703.4 260.5L704.9 265.4L706.0 270.1L706.8 274.7L707.2 279.0L707.2 283.0L706.9 286.7L706.1 289.9L705.0 292.7L703.6 295.1L701.8 296.9L699.7 298.2L697.3 298.9M656.0 217.1L657.8 215.3L659.9 214.1L662.3 213.4L665.0 213.3L667.8 213.8L670.9 214.8L674.1 216.4L677.3 218.5L680.6 221.1L683.9 224.1L687.2 227.6L690.4 231.5L693.4 235.6L696.3 240.1L698.9 244.7L701.4 249.5L703.5 254.4L705.3 259.3L706.8 264.1L708.0 268.8L708.8 273.4L709.2 277.7L709.2 281.7L708.8 285.3L708.1 288.6L707.0 291.4L705.5 293.7L703.7 295.5L701.6 296.8L699.3 297.5M658.1 216.0L659.9 214.2L662.1 213.0L664.5 212.4L667.1 212.3L670.0 212.7L673.0 213.7L676.1 215.3L679.4 217.4L682.7 220.0L686.0 223.0L689.2 226.5L692.4 230.3L695.4 234.5L698.3 238.9L700.9 243.5L703.4 248.3L705.5 253.2L707.3 258.0L708.8 262.9L710.0 267.6L710.7 272.1L711.1 276.4L711.2 280.4L710.8 284.0L710.1 287.2L709.0 290.0L707.5 292.4L705.7 294.2L703.6 295.4L701.3 296.2M660.3 214.9L662.1 213.2L664.2 212.0L666.6 211.3L669.2 211.2L672.1 211.7L675.1 212.7L678.2 214.2L681.5 216.3L684.8 218.9L688.0 221.9L691.3 225.4L694.4 229.2L697.5 233.3L700.3 237.7L703.0 242.4L705.4 247.1L707.5 252.0L709.3 256.8L710.8 261.6L711.9 266.3L712.7 270.8L713.1 275.1L713.1 279.1L712.8 282.7L712.0 285.9L711.0 288.7L709.5 291.0L707.7 292.8L705.6 294.1L703.3 294.8M662.4 213.8L664.2 212.1L666.3 210.9L668.7 210.2L671.3 210.1L674.2 210.6L677.2 211.6L680.3 213.1L683.6 215.2L686.8 217.8L690.1 220.8L693.3 224.2L696.5 228.1L699.5 232.2L702.3 236.6L705.0 241.2L707.3 245.9L709.5 250.7L711.3 255.6L712.8 260.4L713.9 265.0L714.7 269.5L715.1 273.8L715.1 277.7L714.7 281.4L714.0 284.6L712.9 287.4L711.5 289.7L709.7 291.4L707.6 292.7L705.3 293.4M664.6 212.8L666.4 211.0L668.5 209.8L670.9 209.2L673.5 209.1L676.3 209.5L679.3 210.5L682.4 212.1L685.6 214.1L688.9 216.7L692.2 219.7L695.4 223.1L698.5 226.9L701.5 231.0L704.3 235.4L707.0 240.0L709.3 244.7L711.4 249.5L713.3 254.3L714.7 259.1L715.9 263.8L716.6 268.2L717.0 272.5L717.1 276.4L716.7 280.0L716.0 283.2L714.9 286.0L713.5 288.3L711.7 290.1L709.6 291.3L707.3 292.1M666.7 211.7L668.5 209.9L670.6 208.7L673.0 208.1L675.6 208.0L678.4 208.4L681.4 209.4L684.5 211.0L687.7 213.0L691.0 215.6L694.2 218.6L697.4 222.0L700.5 225.8L703.5 229.9L706.3 234.3L709.0 238.8L711.3 243.5L713.4 248.3L715.2 253.1L716.7 257.9L717.8 262.5L718.6 267.0L719.0 271.2L719.0 275.1L718.7 278.7L718.0 281.9L716.9 284.7L715.4 286.9L713.7 288.7L711.6 290.0L709.3 290.7M668.9 210.6L670.7 208.9L672.8 207.7L675.1 207.0L677.7 206.9L680.5 207.4L683.5 208.4L686.6 209.9L689.8 212.0L693.0 214.5L696.3 217.5L699.5 220.9L702.6 224.7L705.5 228.7L708.4 233.1L711.0 237.6L713.3 242.3L715.4 247.1L717.2 251.9L718.7 256.6L719.8 261.2L720.6 265.7L721.0 269.9L721.0 273.8L720.6 277.4L719.9 280.6L718.8 283.3L717.4 285.6L715.7 287.4L713.6 288.6L711.3 289.3M671.0 209.5L672.8 207.8L674.9 206.6L677.3 206.0L679.8 205.8L682.6 206.3L685.6 207.3L688.7 208.8L691.9 210.9L695.1 213.4L698.3 216.4L701.5 219.8L704.6 223.5L707.6 227.6L710.4 231.9L713.0 236.5L715.3 241.1L717.4 245.9L719.2 250.6L720.7 255.4L721.8 260.0L722.5 264.4L722.9 268.6L723.0 272.5L722.6 276.1L721.9 279.2L720.8 282.0L719.4 284.2L717.6 286.0L715.6 287.2L713.3 287.9M673.2 208.4L675.0 206.7L677.0 205.5L679.4 204.9L682.0 204.8L684.8 205.2L687.7 206.2L690.8 207.8L694.0 209.8L697.2 212.3L700.4 215.3L703.5 218.6L706.6 222.4L709.6 226.4L712.4 230.8L715.0 235.3L717.3 239.9L719.4 244.7L721.2 249.4L722.6 254.1L723.8 258.7L724.5 263.1L724.9 267.3L724.9 271.2L724.6 274.7L723.9 277.9L722.8 280.6L721.4 282.9L719.6 284.6L717.6 285.9L715.3 286.6M675.4 207.4L677.1 205.6L679.2 204.5L681.5 203.8L684.1 203.7L686.9 204.2L689.8 205.2L692.9 206.7L696.0 208.7L699.2 211.2L702.4 214.2L705.6 217.5L708.7 221.3L711.6 225.3L714.4 229.6L717.0 234.1L719.3 238.7L721.4 243.4L723.2 248.2L724.6 252.9L725.7 257.4L726.5 261.8L726.9 266.0L726.9 269.9L726.6 273.4L725.8 276.6L724.8 279.3L723.4 281.5L721.6 283.3L719.6 284.5L717.3 285.2M677.5 206.3L679.3 204.6L681.3 203.4L683.7 202.7L686.2 202.6L689.0 203.1L691.9 204.1L695.0 205.6L698.1 207.6L701.3 210.1L704.5 213.1L707.6 216.4L710.7 220.1L713.6 224.1L716.4 228.4L719.0 232.9L721.3 237.5L723.4 242.2L725.1 246.9L726.6 251.6L727.7 256.2L728.4 260.5L728.8 264.7L728.9 268.6L728.5 272.1L727.8 275.2L726.7 277.9L725.3 280.2L723.6 281.9L721.6 283.1L719.3 283.8M679.7 205.2L681.4 203.5L683.5 202.3L685.8 201.7L688.3 201.6L691.1 202.0L694.0 203.0L697.1 204.5L700.2 206.5L703.4 209.0L706.5 212.0L709.7 215.3L712.7 219.0L715.7 223.0L718.4 227.3L721.0 231.7L723.3 236.3L725.4 241.0L727.1 245.7L728.6 250.4L729.7 254.9L730.4 259.3L730.8 263.4L730.8 267.2L730.5 270.8L729.8 273.9L728.7 276.6L727.3 278.8L725.6 280.6L723.6 281.8L721.3 282.5" fill="none" stroke="#067478" stroke-width="0.47" opacity="0.7"/></g>
<ellipse cx="571.1" cy="320.1" rx="25.2" ry="55.1" transform="rotate(-27.7 571.1 320.1)" fill="url(#c3r)"/>
<g clip-path="url(#c3f)" opacity="0.72"><path d="M571.3 321.3L545.5 271.3M571.3 321.3L547.1 270.6M571.3 321.3L548.8 270.2M571.3 321.3L550.7 269.9M571.3 321.3L552.6 270.0M571.3 321.3L554.7 270.3M571.3 321.3L556.8 270.8M571.3 321.3L559.0 271.5M571.3 321.3L561.2 272.5M571.3 321.3L563.5 273.7M571.3 321.3L565.8 275.2M571.3 321.3L568.2 276.9M571.3 321.3L570.5 278.8M571.3 321.3L572.9 280.8M571.3 321.3L575.3 283.1M571.3 321.3L577.6 285.6M571.3 321.3L579.9 288.2M571.3 321.3L582.2 291.0M571.3 321.3L584.4 293.9M571.3 321.3L586.6 296.9M571.3 321.3L588.6 300.1M571.3 321.3L590.6 303.4M571.3 321.3L592.5 306.7M571.3 321.3L594.3 310.1M571.3 321.3L596.0 313.5M571.3 321.3L597.5 317.0M571.3 321.3L598.9 320.5M571.3 321.3L600.2 324.0M571.3 321.3L601.4 327.5M571.3 321.3L602.4 331.0M571.3 321.3L603.2 334.3M571.3 321.3L603.9 337.7M571.3 321.3L604.5 340.9M571.3 321.3L604.8 344.0M571.3 321.3L605.0 347.1M571.3 321.3L605.1 349.9M571.3 321.3L604.9 352.7M571.3 321.3L604.6 355.3M571.3 321.3L604.2 357.7M571.3 321.3L603.6 359.9M571.3 321.3L602.8 361.9M571.3 321.3L601.9 363.8M571.3 321.3L600.8 365.4M571.3 321.3L599.6 366.8M571.3 321.3L598.2 367.9M571.3 321.3L596.7 368.9M571.3 321.3L595.1 369.6M571.3 321.3L593.4 370.0M571.3 321.3L591.5 370.3M571.3 321.3L589.6 370.2M571.3 321.3L587.5 369.9M571.3 321.3L585.4 369.4M571.3 321.3L583.2 368.7M571.3 321.3L581.0 367.7M571.3 321.3L578.7 366.5M571.3 321.3L576.4 365.0M571.3 321.3L574.0 363.3M571.3 321.3L571.7 361.4M571.3 321.3L569.3 359.4M571.3 321.3L566.9 357.1M571.3 321.3L564.6 354.6M571.3 321.3L562.3 352.0M571.3 321.3L560.0 349.2M571.3 321.3L557.8 346.3M571.3 321.3L555.6 343.3M571.3 321.3L553.6 340.1M571.3 321.3L551.6 336.8M571.3 321.3L549.7 333.5M571.3 321.3L547.9 330.1M571.3 321.3L546.2 326.7M571.3 321.3L544.7 323.2M571.3 321.3L543.3 319.7M571.3 321.3L542.0 316.2M571.3 321.3L540.8 312.7M571.3 321.3L539.8 309.2M571.3 321.3L539.0 305.9M571.3 321.3L538.3 302.5M571.3 321.3L537.7 299.3M571.3 321.3L537.4 296.2M571.3 321.3L537.2 293.1M571.3 321.3L537.1 290.3M571.3 321.3L537.3 287.5M571.3 321.3L537.6 284.9M571.3 321.3L538.0 282.5M571.3 321.3L538.6 280.3M571.3 321.3L539.4 278.3M571.3 321.3L540.3 276.4M571.3 321.3L541.4 274.8M571.3 321.3L542.6 273.4M571.3 321.3L544.0 272.3" fill="none" stroke="#067478" stroke-width="0.69" opacity="1.0"/>
<ellipse cx="571.3" cy="321.2" rx="2.0" ry="4.3" transform="rotate(-27.7 571.3 321.2)" fill="none" stroke="#067478" stroke-width="0.55"/>
<ellipse cx="571.3" cy="321.1" rx="3.6" ry="7.8" transform="rotate(-27.7 571.3 321.1)" fill="none" stroke="#067478" stroke-width="0.55"/>
<ellipse cx="571.3" cy="321.1" rx="5.0" ry="11.0" transform="rotate(-27.7 571.3 321.1)" fill="none" stroke="#067478" stroke-width="0.55"/>
<ellipse cx="571.2" cy="321.0" rx="6.4" ry="14.0" transform="rotate(-27.7 571.2 321.0)" fill="none" stroke="#067478" stroke-width="0.55"/>
<ellipse cx="571.2" cy="320.9" rx="7.8" ry="17.0" transform="rotate(-27.7 571.2 320.9)" fill="none" stroke="#067478" stroke-width="0.55"/>
<ellipse cx="571.2" cy="320.9" rx="9.1" ry="19.8" transform="rotate(-27.7 571.2 320.9)" fill="none" stroke="#067478" stroke-width="0.55"/>
<ellipse cx="571.2" cy="320.8" rx="10.3" ry="22.6" transform="rotate(-27.7 571.2 320.8)" fill="none" stroke="#067478" stroke-width="0.55"/>
<ellipse cx="571.2" cy="320.7" rx="11.6" ry="25.3" transform="rotate(-27.7 571.2 320.7)" fill="none" stroke="#067478" stroke-width="0.55"/>
<ellipse cx="571.2" cy="320.7" rx="12.8" ry="28.0" transform="rotate(-27.7 571.2 320.7)" fill="none" stroke="#067478" stroke-width="0.55"/>
<ellipse cx="571.2" cy="320.6" rx="14.0" ry="30.6" transform="rotate(-27.7 571.2 320.6)" fill="none" stroke="#067478" stroke-width="0.55"/>
<ellipse cx="571.2" cy="320.6" rx="15.2" ry="33.1" transform="rotate(-27.7 571.2 320.6)" fill="none" stroke="#067478" stroke-width="0.55"/>
<ellipse cx="571.2" cy="320.5" rx="16.3" ry="35.7" transform="rotate(-27.7 571.2 320.5)" fill="none" stroke="#067478" stroke-width="0.55"/>
<ellipse cx="571.2" cy="320.5" rx="17.5" ry="38.2" transform="rotate(-27.7 571.2 320.5)" fill="none" stroke="#067478" stroke-width="0.55"/>
<ellipse cx="571.2" cy="320.4" rx="18.6" ry="40.7" transform="rotate(-27.7 571.2 320.4)" fill="none" stroke="#067478" stroke-width="0.55"/>
<ellipse cx="571.1" cy="320.4" rx="19.7" ry="43.1" transform="rotate(-27.7 571.1 320.4)" fill="none" stroke="#067478" stroke-width="0.55"/>
<ellipse cx="571.1" cy="320.3" rx="20.8" ry="45.6" transform="rotate(-27.7 571.1 320.3)" fill="none" stroke="#067478" stroke-width="0.55"/>
<ellipse cx="571.1" cy="320.3" rx="21.9" ry="48.0" transform="rotate(-27.7 571.1 320.3)" fill="none" stroke="#067478" stroke-width="0.55"/>
<ellipse cx="571.1" cy="320.2" rx="23.0" ry="50.4" transform="rotate(-27.7 571.1 320.2)" fill="none" stroke="#067478" stroke-width="0.55"/>
<ellipse cx="571.1" cy="320.2" rx="24.1" ry="52.7" transform="rotate(-27.7 571.1 320.2)" fill="none" stroke="#067478" stroke-width="0.55"/>
<ellipse cx="571.1" cy="320.1" rx="25.2" ry="55.1" transform="rotate(-27.7 571.1 320.1)" fill="none" stroke="#067478" stroke-width="0.55"/>
</g>
<line x1="545.7" y1="271.2" x2="617.2" y2="235.5" stroke="#04403e" stroke-width="0.9"/>
<ellipse cx="571.5" cy="321" rx="4.2" ry="12" transform="rotate(-30 571.5 321)" fill="#087c7a" opacity="0.55"/><ellipse cx="571.2" cy="320.9" rx="1.7" ry="2.6" transform="rotate(-30 571.2 320.9)" fill="#021c1c"/>
</g>
<line x1="509.3" y1="357.6" x2="570.5" y2="321.5" stroke="#0a5452" stroke-width="2.3" stroke-linecap="round"/>
<text x="476.2" y="45.8" font-family="Liberation Serif, serif" font-size="15.4" fill="#222">15mm</text>
<text x="479.8" y="83.8" font-family="Liberation Serif, serif" font-size="15.4" fill="#222">5mm</text>
<text x="478.0" y="167.4" font-family="Liberation Serif, serif" font-size="15.4" fill="#222">30mm</text>
<text x="476.2" y="205.1" font-family="Liberation Serif, serif" font-size="15.4" fill="#222">15mm</text>
<text x="476.2" y="290.8" font-family="Liberation Serif, serif" font-size="15.4" fill="#222">50mm</text>
<text x="476.2" y="328.8" font-family="Liberation Serif, serif" font-size="15.4" fill="#222">30mm</text>
<line x1="537.6" y1="62" x2="524.4" y2="52.3" stroke="#2a2a2a" stroke-width="1.05"/><polygon points="519.6,48.7 525.8,50.4 523.1,54.1" fill="#222"/>
<line x1="515" y1="102.8" x2="502.0" y2="93.2" stroke="#2a2a2a" stroke-width="1.05"/><polygon points="497.2,89.6 503.4,91.3 500.6,95.0" fill="#222"/>
<line x1="538.9" y1="183" x2="525.9" y2="174.0" stroke="#2a2a2a" stroke-width="1.05"/><polygon points="521.0,170.6 527.2,172.1 524.6,175.9" fill="#222"/>
<line x1="516.5" y1="223.9" x2="503.8" y2="215.3" stroke="#2a2a2a" stroke-width="1.05"/><polygon points="498.8,212.0 505.1,213.4 502.5,217.3" fill="#222"/>
<line x1="537.6" y1="307" x2="524.8" y2="297.8" stroke="#2a2a2a" stroke-width="1.05"/><polygon points="519.9,294.3 526.1,295.9 523.4,299.7" fill="#222"/>
<line x1="515.7" y1="347.8" x2="502.9" y2="338.8" stroke="#2a2a2a" stroke-width="1.05"/><polygon points="498.0,335.4 504.2,337.0 501.6,340.7" fill="#222"/>
</svg>
</div></body></html>
